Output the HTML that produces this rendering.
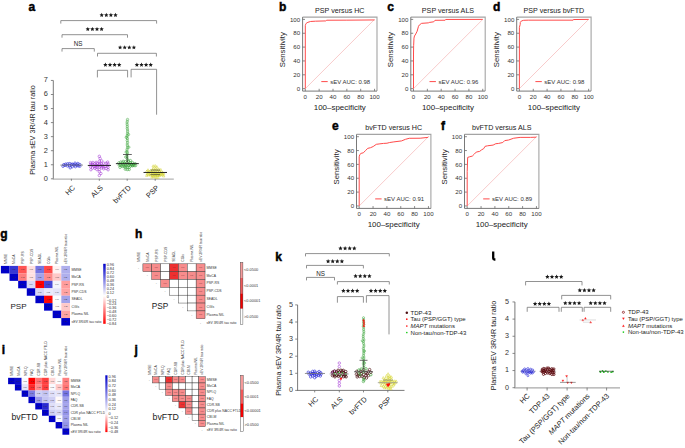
<!DOCTYPE html>
<html><head><meta charset="utf-8"><style>
html,body{margin:0;padding:0;background:#fff;}
svg{display:block;font-family:"Liberation Sans", sans-serif;}
</style></head><body>
<svg width="685" height="448" viewBox="0 0 685 448">
<rect width="685" height="448" fill="#fff"/>
<text x="28.60" y="10.90" font-size="12" text-anchor="start" fill="#000" font-weight="bold" stroke="#000" stroke-width="0.45">a</text>
<path d="M60.80,23.60 L60.80,20.60 L156.60,20.60 L156.60,23.60" fill="none" stroke="#6e6e6e" stroke-width="0.75"/>
<path d="M101.70,12.80 L102.34,14.23 L103.89,14.39 L102.73,15.43 L103.05,16.96 L101.70,16.18 L100.35,16.96 L100.67,15.43 L99.51,14.39 L101.06,14.23ZM106.30,12.80 L106.94,14.23 L108.49,14.39 L107.33,15.43 L107.65,16.96 L106.30,16.18 L104.95,16.96 L105.27,15.43 L104.11,14.39 L105.66,14.23ZM110.90,12.80 L111.54,14.23 L113.09,14.39 L111.93,15.43 L112.25,16.96 L110.90,16.18 L109.55,16.96 L109.87,15.43 L108.71,14.39 L110.26,14.23ZM115.50,12.80 L116.14,14.23 L117.69,14.39 L116.53,15.43 L116.85,16.96 L115.50,16.18 L114.15,16.96 L114.47,15.43 L113.31,14.39 L114.86,14.23Z" fill="#1a1a1a"/>
<path d="M62.00,37.70 L62.00,34.70 L127.50,34.70 L127.50,37.70" fill="none" stroke="#6e6e6e" stroke-width="0.75"/>
<path d="M87.80,26.90 L88.44,28.33 L89.99,28.49 L88.83,29.53 L89.15,31.06 L87.80,30.28 L86.45,31.06 L86.77,29.53 L85.61,28.49 L87.16,28.33ZM92.40,26.90 L93.04,28.33 L94.59,28.49 L93.43,29.53 L93.75,31.06 L92.40,30.28 L91.05,31.06 L91.37,29.53 L90.21,28.49 L91.76,28.33ZM97.00,26.90 L97.64,28.33 L99.19,28.49 L98.03,29.53 L98.35,31.06 L97.00,30.28 L95.65,31.06 L95.97,29.53 L94.81,28.49 L96.36,28.33ZM101.60,26.90 L102.24,28.33 L103.79,28.49 L102.63,29.53 L102.95,31.06 L101.60,30.28 L100.25,31.06 L100.57,29.53 L99.41,28.49 L100.96,28.33Z" fill="#1a1a1a"/>
<path d="M62.00,51.60 L62.00,48.60 L94.30,48.60 L94.30,51.60" fill="none" stroke="#6e6e6e" stroke-width="0.75"/>
<text x="78.20" y="46.00" font-size="6.3" text-anchor="middle" fill="#262626" font-weight="normal">NS</text>
<path d="M97.50,56.50 L97.50,53.30 L156.40,53.30 L156.40,56.50" fill="none" stroke="#6e6e6e" stroke-width="0.75"/>
<path d="M120.10,45.20 L120.74,46.63 L122.29,46.79 L121.13,47.83 L121.45,49.36 L120.10,48.58 L118.75,49.36 L119.07,47.83 L117.91,46.79 L119.46,46.63ZM124.70,45.20 L125.34,46.63 L126.89,46.79 L125.73,47.83 L126.05,49.36 L124.70,48.58 L123.35,49.36 L123.67,47.83 L122.51,46.79 L124.06,46.63ZM129.30,45.20 L129.94,46.63 L131.49,46.79 L130.33,47.83 L130.65,49.36 L129.30,48.58 L127.95,49.36 L128.27,47.83 L127.11,46.79 L128.66,46.63ZM133.90,45.20 L134.54,46.63 L136.09,46.79 L134.93,47.83 L135.25,49.36 L133.90,48.58 L132.55,49.36 L132.87,47.83 L131.71,46.79 L133.26,46.63Z" fill="#1a1a1a"/>
<path d="M97.40,77.40 L97.40,70.30 L127.60,70.30 L127.60,77.40" fill="none" stroke="#6e6e6e" stroke-width="0.75"/>
<path d="M105.40,62.50 L106.04,63.93 L107.59,64.09 L106.43,65.13 L106.75,66.66 L105.40,65.88 L104.05,66.66 L104.37,65.13 L103.21,64.09 L104.76,63.93ZM110.00,62.50 L110.64,63.93 L112.19,64.09 L111.03,65.13 L111.35,66.66 L110.00,65.88 L108.65,66.66 L108.97,65.13 L107.81,64.09 L109.36,63.93ZM114.60,62.50 L115.24,63.93 L116.79,64.09 L115.63,65.13 L115.95,66.66 L114.60,65.88 L113.25,66.66 L113.57,65.13 L112.41,64.09 L113.96,63.93ZM119.20,62.50 L119.84,63.93 L121.39,64.09 L120.23,65.13 L120.55,66.66 L119.20,65.88 L117.85,66.66 L118.17,65.13 L117.01,64.09 L118.56,63.93Z" fill="#1a1a1a"/>
<path d="M131.10,77.40 L131.10,69.30 L156.60,69.30 L156.60,114.70" fill="none" stroke="#6e6e6e" stroke-width="0.75"/>
<path d="M136.90,62.50 L137.54,63.93 L139.09,64.09 L137.93,65.13 L138.25,66.66 L136.90,65.88 L135.55,66.66 L135.87,65.13 L134.71,64.09 L136.26,63.93ZM141.50,62.50 L142.14,63.93 L143.69,64.09 L142.53,65.13 L142.85,66.66 L141.50,65.88 L140.15,66.66 L140.47,65.13 L139.31,64.09 L140.86,63.93ZM146.10,62.50 L146.74,63.93 L148.29,64.09 L147.13,65.13 L147.45,66.66 L146.10,65.88 L144.75,66.66 L145.07,65.13 L143.91,64.09 L145.46,63.93ZM150.70,62.50 L151.34,63.93 L152.89,64.09 L151.73,65.13 L152.05,66.66 L150.70,65.88 L149.35,66.66 L149.67,65.13 L148.51,64.09 L150.06,63.93Z" fill="#1a1a1a"/>
<line x1="53.30" y1="80.45" x2="53.30" y2="179.20" stroke="#6b6b6b" stroke-width="0.9"/>
<line x1="52.90" y1="179.10" x2="173.80" y2="179.10" stroke="#b4b4b4" stroke-width="1.2"/>
<line x1="50.90" y1="178.80" x2="53.30" y2="178.80" stroke="#6b6b6b" stroke-width="0.8"/>
<text x="47.80" y="180.70" font-size="7.4" text-anchor="end" fill="#333" font-weight="normal">0</text>
<line x1="50.90" y1="164.75" x2="53.30" y2="164.75" stroke="#6b6b6b" stroke-width="0.8"/>
<text x="47.80" y="166.65" font-size="7.4" text-anchor="end" fill="#333" font-weight="normal">1</text>
<line x1="50.90" y1="150.70" x2="53.30" y2="150.70" stroke="#6b6b6b" stroke-width="0.8"/>
<text x="47.80" y="152.60" font-size="7.4" text-anchor="end" fill="#333" font-weight="normal">2</text>
<line x1="50.90" y1="136.65" x2="53.30" y2="136.65" stroke="#6b6b6b" stroke-width="0.8"/>
<text x="47.80" y="138.55" font-size="7.4" text-anchor="end" fill="#333" font-weight="normal">3</text>
<line x1="50.90" y1="122.60" x2="53.30" y2="122.60" stroke="#6b6b6b" stroke-width="0.8"/>
<text x="47.80" y="124.50" font-size="7.4" text-anchor="end" fill="#333" font-weight="normal">4</text>
<line x1="50.90" y1="108.55" x2="53.30" y2="108.55" stroke="#6b6b6b" stroke-width="0.8"/>
<text x="47.80" y="110.45" font-size="7.4" text-anchor="end" fill="#333" font-weight="normal">5</text>
<line x1="50.90" y1="94.50" x2="53.30" y2="94.50" stroke="#6b6b6b" stroke-width="0.8"/>
<text x="47.80" y="96.40" font-size="7.4" text-anchor="end" fill="#333" font-weight="normal">6</text>
<line x1="50.90" y1="80.45" x2="53.30" y2="80.45" stroke="#6b6b6b" stroke-width="0.8"/>
<text x="47.80" y="82.35" font-size="7.4" text-anchor="end" fill="#333" font-weight="normal">7</text>
<text x="34.50" y="130.00" font-size="7.2" text-anchor="middle" fill="#222" font-weight="normal" transform="rotate(-90 34.50 130.00)">Plasma sEV 3R/4R tau ratio</text>
<line x1="71.40" y1="178.80" x2="71.40" y2="180.80" stroke="#6b6b6b" stroke-width="0.8"/>
<text x="75.60" y="188.20" font-size="7.3" text-anchor="end" fill="#222" font-weight="normal" transform="rotate(-45 75.60 188.20)">HC</text>
<line x1="99.30" y1="178.80" x2="99.30" y2="180.80" stroke="#6b6b6b" stroke-width="0.8"/>
<text x="103.50" y="188.20" font-size="7.3" text-anchor="end" fill="#222" font-weight="normal" transform="rotate(-45 103.50 188.20)">ALS</text>
<line x1="127.20" y1="178.80" x2="127.20" y2="180.80" stroke="#6b6b6b" stroke-width="0.8"/>
<text x="131.40" y="188.20" font-size="7.3" text-anchor="end" fill="#222" font-weight="normal" transform="rotate(-45 131.40 188.20)">bvFTD</text>
<line x1="155.20" y1="178.80" x2="155.20" y2="180.80" stroke="#6b6b6b" stroke-width="0.8"/>
<text x="159.40" y="188.20" font-size="7.3" text-anchor="end" fill="#222" font-weight="normal" transform="rotate(-45 159.40 188.20)">PSP</text>
<circle cx="71.40" cy="164.87" r="1.25" fill="none" stroke="#2a2ad8" stroke-width="0.62"/>
<circle cx="73.40" cy="164.74" r="1.25" fill="none" stroke="#2a2ad8" stroke-width="0.62"/>
<circle cx="69.80" cy="163.62" r="1.25" fill="none" stroke="#2a2ad8" stroke-width="0.62"/>
<circle cx="67.80" cy="163.82" r="1.25" fill="none" stroke="#2a2ad8" stroke-width="0.62"/>
<circle cx="75.00" cy="163.19" r="1.25" fill="none" stroke="#2a2ad8" stroke-width="0.62"/>
<circle cx="76.20" cy="164.98" r="1.25" fill="none" stroke="#2a2ad8" stroke-width="0.62"/>
<circle cx="65.80" cy="164.11" r="1.25" fill="none" stroke="#2a2ad8" stroke-width="0.62"/>
<circle cx="77.80" cy="163.52" r="1.25" fill="none" stroke="#2a2ad8" stroke-width="0.62"/>
<circle cx="72.20" cy="166.74" r="1.25" fill="none" stroke="#2a2ad8" stroke-width="0.62"/>
<circle cx="69.40" cy="165.69" r="1.25" fill="none" stroke="#2a2ad8" stroke-width="0.62"/>
<circle cx="67.40" cy="165.93" r="1.25" fill="none" stroke="#2a2ad8" stroke-width="0.62"/>
<circle cx="63.80" cy="164.67" r="1.25" fill="none" stroke="#2a2ad8" stroke-width="0.62"/>
<circle cx="78.20" cy="165.92" r="1.25" fill="none" stroke="#2a2ad8" stroke-width="0.62"/>
<circle cx="79.80" cy="164.56" r="1.25" fill="none" stroke="#2a2ad8" stroke-width="0.62"/>
<circle cx="74.60" cy="165.01" r="1.25" fill="none" stroke="#2a2ad8" stroke-width="0.62"/>
<circle cx="72.20" cy="164.15" r="1.25" fill="none" stroke="#2a2ad8" stroke-width="0.62"/>
<circle cx="65.00" cy="165.39" r="1.25" fill="none" stroke="#2a2ad8" stroke-width="0.62"/>
<circle cx="63.00" cy="166.21" r="1.25" fill="none" stroke="#2a2ad8" stroke-width="0.62"/>
<circle cx="79.80" cy="166.19" r="1.25" fill="none" stroke="#2a2ad8" stroke-width="0.62"/>
<circle cx="77.40" cy="164.86" r="1.25" fill="none" stroke="#2a2ad8" stroke-width="0.62"/>
<circle cx="70.20" cy="167.77" r="1.25" fill="none" stroke="#2a2ad8" stroke-width="0.62"/>
<circle cx="75.40" cy="166.67" r="1.25" fill="none" stroke="#2a2ad8" stroke-width="0.62"/>
<circle cx="99.30" cy="161.26" r="1.25" fill="none" stroke="#a438d4" stroke-width="0.55"/>
<circle cx="99.30" cy="166.97" r="1.25" fill="none" stroke="#a438d4" stroke-width="0.55"/>
<circle cx="99.30" cy="164.63" r="1.25" fill="none" stroke="#a438d4" stroke-width="0.55"/>
<circle cx="101.30" cy="163.71" r="1.25" fill="none" stroke="#a438d4" stroke-width="0.55"/>
<circle cx="101.70" cy="160.88" r="1.25" fill="none" stroke="#a438d4" stroke-width="0.55"/>
<circle cx="101.70" cy="167.85" r="1.25" fill="none" stroke="#a438d4" stroke-width="0.55"/>
<circle cx="96.90" cy="167.03" r="1.25" fill="none" stroke="#a438d4" stroke-width="0.55"/>
<circle cx="99.30" cy="169.55" r="1.25" fill="none" stroke="#a438d4" stroke-width="0.55"/>
<circle cx="94.90" cy="168.28" r="1.25" fill="none" stroke="#a438d4" stroke-width="0.55"/>
<circle cx="102.50" cy="165.59" r="1.25" fill="none" stroke="#a438d4" stroke-width="0.55"/>
<circle cx="104.90" cy="166.40" r="1.25" fill="none" stroke="#a438d4" stroke-width="0.55"/>
<circle cx="99.30" cy="175.43" r="1.25" fill="none" stroke="#a438d4" stroke-width="0.55"/>
<circle cx="94.10" cy="166.14" r="1.25" fill="none" stroke="#a438d4" stroke-width="0.55"/>
<circle cx="103.70" cy="168.83" r="1.25" fill="none" stroke="#a438d4" stroke-width="0.55"/>
<circle cx="99.30" cy="171.78" r="1.25" fill="none" stroke="#a438d4" stroke-width="0.55"/>
<circle cx="97.30" cy="163.44" r="1.25" fill="none" stroke="#a438d4" stroke-width="0.55"/>
<circle cx="91.70" cy="165.60" r="1.25" fill="none" stroke="#a438d4" stroke-width="0.55"/>
<circle cx="103.70" cy="163.15" r="1.25" fill="none" stroke="#a438d4" stroke-width="0.55"/>
<circle cx="107.30" cy="165.88" r="1.25" fill="none" stroke="#a438d4" stroke-width="0.55"/>
<circle cx="94.90" cy="163.71" r="1.25" fill="none" stroke="#a438d4" stroke-width="0.55"/>
<circle cx="92.90" cy="162.46" r="1.25" fill="none" stroke="#a438d4" stroke-width="0.55"/>
<circle cx="106.10" cy="163.22" r="1.25" fill="none" stroke="#a438d4" stroke-width="0.55"/>
<circle cx="90.50" cy="166.78" r="1.25" fill="none" stroke="#a438d4" stroke-width="0.55"/>
<circle cx="100.90" cy="166.24" r="1.25" fill="none" stroke="#a438d4" stroke-width="0.55"/>
<circle cx="108.10" cy="164.00" r="1.25" fill="none" stroke="#a438d4" stroke-width="0.55"/>
<circle cx="99.30" cy="156.32" r="1.25" fill="none" stroke="#a438d4" stroke-width="0.55"/>
<circle cx="103.30" cy="166.91" r="1.25" fill="none" stroke="#a438d4" stroke-width="0.55"/>
<circle cx="90.50" cy="162.59" r="1.25" fill="none" stroke="#a438d4" stroke-width="0.55"/>
<circle cx="99.70" cy="163.24" r="1.25" fill="none" stroke="#a438d4" stroke-width="0.55"/>
<circle cx="100.90" cy="173.46" r="1.25" fill="none" stroke="#a438d4" stroke-width="0.55"/>
<circle cx="92.50" cy="168.03" r="1.25" fill="none" stroke="#a438d4" stroke-width="0.55"/>
<circle cx="96.10" cy="165.30" r="1.25" fill="none" stroke="#a438d4" stroke-width="0.55"/>
<circle cx="106.10" cy="168.52" r="1.25" fill="none" stroke="#a438d4" stroke-width="0.55"/>
<circle cx="100.10" cy="158.43" r="1.25" fill="none" stroke="#a438d4" stroke-width="0.55"/>
<circle cx="97.70" cy="165.65" r="1.25" fill="none" stroke="#a438d4" stroke-width="0.55"/>
<circle cx="95.30" cy="166.85" r="1.25" fill="none" stroke="#a438d4" stroke-width="0.55"/>
<circle cx="107.70" cy="162.12" r="1.25" fill="none" stroke="#a438d4" stroke-width="0.55"/>
<circle cx="92.50" cy="164.05" r="1.25" fill="none" stroke="#a438d4" stroke-width="0.55"/>
<circle cx="96.90" cy="169.59" r="1.25" fill="none" stroke="#a438d4" stroke-width="0.55"/>
<circle cx="90.90" cy="169.72" r="1.25" fill="none" stroke="#a438d4" stroke-width="0.55"/>
<circle cx="108.10" cy="169.76" r="1.25" fill="none" stroke="#a438d4" stroke-width="0.55"/>
<circle cx="90.90" cy="164.08" r="1.25" fill="none" stroke="#a438d4" stroke-width="0.55"/>
<circle cx="96.10" cy="162.38" r="1.25" fill="none" stroke="#a438d4" stroke-width="0.55"/>
<circle cx="108.10" cy="167.28" r="1.25" fill="none" stroke="#a438d4" stroke-width="0.55"/>
<circle cx="127.20" cy="162.60" r="1.2" fill="none" stroke="#34a034" stroke-width="0.55"/>
<circle cx="127.20" cy="164.88" r="1.2" fill="none" stroke="#34a034" stroke-width="0.55"/>
<circle cx="127.20" cy="167.21" r="1.2" fill="none" stroke="#34a034" stroke-width="0.55"/>
<circle cx="128.40" cy="161.10" r="1.2" fill="none" stroke="#34a034" stroke-width="0.55"/>
<circle cx="129.20" cy="164.00" r="1.2" fill="none" stroke="#34a034" stroke-width="0.55"/>
<circle cx="125.20" cy="164.86" r="1.2" fill="none" stroke="#34a034" stroke-width="0.55"/>
<circle cx="129.20" cy="167.61" r="1.2" fill="none" stroke="#34a034" stroke-width="0.55"/>
<circle cx="130.40" cy="166.10" r="1.2" fill="none" stroke="#34a034" stroke-width="0.55"/>
<circle cx="127.20" cy="169.60" r="1.2" fill="none" stroke="#34a034" stroke-width="0.55"/>
<circle cx="125.20" cy="161.63" r="1.2" fill="none" stroke="#34a034" stroke-width="0.55"/>
<circle cx="130.40" cy="160.54" r="1.2" fill="none" stroke="#34a034" stroke-width="0.55"/>
<circle cx="123.20" cy="165.12" r="1.2" fill="none" stroke="#34a034" stroke-width="0.55"/>
<circle cx="132.40" cy="165.94" r="1.2" fill="none" stroke="#34a034" stroke-width="0.55"/>
<circle cx="129.20" cy="169.54" r="1.2" fill="none" stroke="#34a034" stroke-width="0.55"/>
<circle cx="131.20" cy="164.15" r="1.2" fill="none" stroke="#34a034" stroke-width="0.55"/>
<circle cx="123.20" cy="161.30" r="1.2" fill="none" stroke="#34a034" stroke-width="0.55"/>
<circle cx="121.20" cy="165.69" r="1.2" fill="none" stroke="#34a034" stroke-width="0.55"/>
<circle cx="132.40" cy="162.48" r="1.2" fill="none" stroke="#34a034" stroke-width="0.55"/>
<circle cx="134.40" cy="165.54" r="1.2" fill="none" stroke="#34a034" stroke-width="0.55"/>
<circle cx="122.40" cy="163.03" r="1.2" fill="none" stroke="#34a034" stroke-width="0.55"/>
<circle cx="119.20" cy="165.17" r="1.2" fill="none" stroke="#34a034" stroke-width="0.55"/>
<circle cx="120.80" cy="161.97" r="1.2" fill="none" stroke="#34a034" stroke-width="0.55"/>
<circle cx="128.80" cy="165.35" r="1.2" fill="none" stroke="#34a034" stroke-width="0.55"/>
<circle cx="125.20" cy="167.24" r="1.2" fill="none" stroke="#34a034" stroke-width="0.55"/>
<circle cx="125.20" cy="169.17" r="1.2" fill="none" stroke="#34a034" stroke-width="0.55"/>
<circle cx="135.60" cy="165.54" r="1.2" fill="none" stroke="#34a034" stroke-width="0.55"/>
<circle cx="126.00" cy="165.91" r="1.2" fill="none" stroke="#34a034" stroke-width="0.55"/>
<circle cx="124.00" cy="166.29" r="1.2" fill="none" stroke="#34a034" stroke-width="0.55"/>
<circle cx="131.60" cy="165.21" r="1.2" fill="none" stroke="#34a034" stroke-width="0.55"/>
<circle cx="133.20" cy="164.19" r="1.2" fill="none" stroke="#34a034" stroke-width="0.55"/>
<circle cx="122.40" cy="166.47" r="1.2" fill="none" stroke="#34a034" stroke-width="0.55"/>
<circle cx="120.40" cy="164.59" r="1.2" fill="none" stroke="#34a034" stroke-width="0.55"/>
<circle cx="133.20" cy="165.44" r="1.2" fill="none" stroke="#34a034" stroke-width="0.55"/>
<circle cx="120.00" cy="167.36" r="1.2" fill="none" stroke="#34a034" stroke-width="0.55"/>
<circle cx="135.20" cy="163.62" r="1.2" fill="none" stroke="#34a034" stroke-width="0.55"/>
<circle cx="118.80" cy="162.93" r="1.2" fill="none" stroke="#34a034" stroke-width="0.55"/>
<circle cx="124.40" cy="163.16" r="1.2" fill="none" stroke="#34a034" stroke-width="0.55"/>
<circle cx="130.40" cy="162.71" r="1.2" fill="none" stroke="#34a034" stroke-width="0.55"/>
<circle cx="127.59" cy="159.83" r="1.15" fill="none" stroke="#34a034" stroke-width="0.5"/>
<circle cx="127.13" cy="158.08" r="1.15" fill="none" stroke="#34a034" stroke-width="0.5"/>
<circle cx="126.96" cy="156.32" r="1.15" fill="none" stroke="#34a034" stroke-width="0.5"/>
<circle cx="127.16" cy="154.56" r="1.15" fill="none" stroke="#34a034" stroke-width="0.5"/>
<circle cx="127.42" cy="152.81" r="1.15" fill="none" stroke="#34a034" stroke-width="0.5"/>
<circle cx="127.09" cy="151.05" r="1.15" fill="none" stroke="#34a034" stroke-width="0.5"/>
<circle cx="127.07" cy="149.30" r="1.15" fill="none" stroke="#34a034" stroke-width="0.5"/>
<circle cx="127.58" cy="147.54" r="1.15" fill="none" stroke="#34a034" stroke-width="0.5"/>
<circle cx="127.41" cy="145.78" r="1.15" fill="none" stroke="#34a034" stroke-width="0.5"/>
<circle cx="127.26" cy="144.03" r="1.15" fill="none" stroke="#34a034" stroke-width="0.5"/>
<circle cx="127.57" cy="142.27" r="1.15" fill="none" stroke="#34a034" stroke-width="0.5"/>
<circle cx="127.18" cy="140.51" r="1.15" fill="none" stroke="#34a034" stroke-width="0.5"/>
<circle cx="127.42" cy="138.76" r="1.15" fill="none" stroke="#34a034" stroke-width="0.5"/>
<circle cx="127.09" cy="137.00" r="1.15" fill="none" stroke="#34a034" stroke-width="0.5"/>
<circle cx="127.25" cy="135.25" r="1.15" fill="none" stroke="#34a034" stroke-width="0.5"/>
<circle cx="127.51" cy="133.49" r="1.15" fill="none" stroke="#34a034" stroke-width="0.5"/>
<circle cx="127.59" cy="131.73" r="1.15" fill="none" stroke="#34a034" stroke-width="0.5"/>
<circle cx="127.57" cy="129.98" r="1.15" fill="none" stroke="#34a034" stroke-width="0.5"/>
<circle cx="127.22" cy="128.22" r="1.15" fill="none" stroke="#34a034" stroke-width="0.5"/>
<circle cx="127.36" cy="126.46" r="1.15" fill="none" stroke="#34a034" stroke-width="0.5"/>
<circle cx="127.17" cy="124.71" r="1.15" fill="none" stroke="#34a034" stroke-width="0.5"/>
<circle cx="127.05" cy="122.95" r="1.15" fill="none" stroke="#34a034" stroke-width="0.5"/>
<circle cx="127.30" cy="121.20" r="1.15" fill="none" stroke="#34a034" stroke-width="0.5"/>
<circle cx="127.54" cy="119.44" r="1.15" fill="none" stroke="#34a034" stroke-width="0.5"/>
<circle cx="126.14" cy="152.11" r="1.15" fill="none" stroke="#34a034" stroke-width="0.5"/>
<circle cx="128.85" cy="147.19" r="1.15" fill="none" stroke="#34a034" stroke-width="0.5"/>
<circle cx="126.22" cy="137.35" r="1.15" fill="none" stroke="#34a034" stroke-width="0.5"/>
<circle cx="128.54" cy="134.54" r="1.15" fill="none" stroke="#34a034" stroke-width="0.5"/>
<circle cx="125.67" cy="157.02" r="1.15" fill="none" stroke="#34a034" stroke-width="0.5"/>
<path d="M153.95,176.82 L156.45,176.82 L155.20,174.57Z" fill="none" stroke="#d0d028" stroke-width="0.5"/>
<path d="M153.95,171.46 L156.45,171.46 L155.20,169.21Z" fill="none" stroke="#d0d028" stroke-width="0.5"/>
<path d="M155.95,176.44 L158.45,176.44 L157.20,174.19Z" fill="none" stroke="#d0d028" stroke-width="0.5"/>
<path d="M153.95,173.81 L156.45,173.81 L155.20,171.56Z" fill="none" stroke="#d0d028" stroke-width="0.5"/>
<path d="M155.95,173.97 L158.45,173.97 L157.20,171.72Z" fill="none" stroke="#d0d028" stroke-width="0.5"/>
<path d="M155.55,170.52 L158.05,170.52 L156.80,168.27Z" fill="none" stroke="#d0d028" stroke-width="0.5"/>
<path d="M153.95,169.54 L156.45,169.54 L155.20,167.29Z" fill="none" stroke="#d0d028" stroke-width="0.5"/>
<path d="M151.95,169.49 L154.45,169.49 L153.20,167.24Z" fill="none" stroke="#d0d028" stroke-width="0.5"/>
<path d="M152.35,172.72 L154.85,172.72 L153.60,170.47Z" fill="none" stroke="#d0d028" stroke-width="0.5"/>
<path d="M152.75,175.14 L155.25,175.14 L154.00,172.89Z" fill="none" stroke="#d0d028" stroke-width="0.5"/>
<path d="M150.75,175.51 L153.25,175.51 L152.00,173.26Z" fill="none" stroke="#d0d028" stroke-width="0.5"/>
<path d="M151.15,170.99 L153.65,170.99 L152.40,168.74Z" fill="none" stroke="#d0d028" stroke-width="0.5"/>
<path d="M157.95,176.49 L160.45,176.49 L159.20,174.24Z" fill="none" stroke="#d0d028" stroke-width="0.5"/>
<path d="M156.35,172.17 L158.85,172.17 L157.60,169.92Z" fill="none" stroke="#d0d028" stroke-width="0.5"/>
<path d="M149.15,176.12 L151.65,176.12 L150.40,173.87Z" fill="none" stroke="#d0d028" stroke-width="0.5"/>
<path d="M150.35,173.07 L152.85,173.07 L151.60,170.82Z" fill="none" stroke="#d0d028" stroke-width="0.5"/>
<path d="M158.35,172.03 L160.85,172.03 L159.60,169.78Z" fill="none" stroke="#d0d028" stroke-width="0.5"/>
<path d="M152.35,177.40 L154.85,177.40 L153.60,175.15Z" fill="none" stroke="#d0d028" stroke-width="0.5"/>
<path d="M153.95,166.78 L156.45,166.78 L155.20,164.53Z" fill="none" stroke="#d0d028" stroke-width="0.5"/>
<path d="M154.75,178.42 L157.25,178.42 L156.00,176.17Z" fill="none" stroke="#d0d028" stroke-width="0.5"/>
<path d="M157.55,174.71 L160.05,174.71 L158.80,172.46Z" fill="none" stroke="#d0d028" stroke-width="0.5"/>
<path d="M159.55,175.80 L162.05,175.80 L160.80,173.55Z" fill="none" stroke="#d0d028" stroke-width="0.5"/>
<path d="M149.55,171.57 L152.05,171.57 L150.80,169.32Z" fill="none" stroke="#d0d028" stroke-width="0.5"/>
<path d="M159.15,173.63 L161.65,173.63 L160.40,171.38Z" fill="none" stroke="#d0d028" stroke-width="0.5"/>
<path d="M147.95,172.37 L150.45,172.37 L149.20,170.12Z" fill="none" stroke="#d0d028" stroke-width="0.5"/>
<path d="M147.55,175.54 L150.05,175.54 L148.80,173.29Z" fill="none" stroke="#d0d028" stroke-width="0.5"/>
<path d="M155.55,167.86 L158.05,167.86 L156.80,165.61Z" fill="none" stroke="#d0d028" stroke-width="0.5"/>
<path d="M161.55,175.63 L164.05,175.63 L162.80,173.38Z" fill="none" stroke="#d0d028" stroke-width="0.5"/>
<path d="M161.15,173.30 L163.65,173.30 L162.40,171.05Z" fill="none" stroke="#d0d028" stroke-width="0.5"/>
<path d="M145.95,174.81 L148.45,174.81 L147.20,172.56Z" fill="none" stroke="#d0d028" stroke-width="0.5"/>
<path d="M156.75,178.31 L159.25,178.31 L158.00,176.06Z" fill="none" stroke="#d0d028" stroke-width="0.5"/>
<path d="M145.55,176.37 L148.05,176.37 L146.80,174.12Z" fill="none" stroke="#d0d028" stroke-width="0.5"/>
<path d="M159.55,170.73 L162.05,170.73 L160.80,168.48Z" fill="none" stroke="#d0d028" stroke-width="0.5"/>
<path d="M154.75,175.12 L157.25,175.12 L156.00,172.87Z" fill="none" stroke="#d0d028" stroke-width="0.5"/>
<path d="M156.35,175.40 L158.85,175.40 L157.60,173.15Z" fill="none" stroke="#d0d028" stroke-width="0.5"/>
<path d="M157.55,170.17 L160.05,170.17 L158.80,167.92Z" fill="none" stroke="#d0d028" stroke-width="0.5"/>
<path d="M146.75,170.99 L149.25,170.99 L148.00,168.74Z" fill="none" stroke="#d0d028" stroke-width="0.5"/>
<path d="M149.15,174.41 L151.65,174.41 L150.40,172.16Z" fill="none" stroke="#d0d028" stroke-width="0.5"/>
<path d="M150.75,178.13 L153.25,178.13 L152.00,175.88Z" fill="none" stroke="#d0d028" stroke-width="0.5"/>
<path d="M162.35,176.88 L164.85,176.88 L163.60,174.63Z" fill="none" stroke="#d0d028" stroke-width="0.5"/>
<path d="M147.15,173.80 L149.65,173.80 L148.40,171.55Z" fill="none" stroke="#d0d028" stroke-width="0.5"/>
<path d="M151.55,173.79 L154.05,173.79 L152.80,171.54Z" fill="none" stroke="#d0d028" stroke-width="0.5"/>
<path d="M162.35,174.38 L164.85,174.38 L163.60,172.13Z" fill="none" stroke="#d0d028" stroke-width="0.5"/>
<path d="M151.55,176.49 L154.05,176.49 L152.80,174.24Z" fill="none" stroke="#d0d028" stroke-width="0.5"/>
<path d="M160.35,174.55 L162.85,174.55 L161.60,172.30Z" fill="none" stroke="#d0d028" stroke-width="0.5"/>
<path d="M158.35,175.58 L160.85,175.58 L159.60,173.33Z" fill="none" stroke="#d0d028" stroke-width="0.5"/>
<path d="M151.95,167.02 L154.45,167.02 L153.20,164.77Z" fill="none" stroke="#d0d028" stroke-width="0.5"/>
<path d="M145.55,172.21 L148.05,172.21 L146.80,169.96Z" fill="none" stroke="#d0d028" stroke-width="0.5"/>
<path d="M153.95,175.61 L156.45,175.61 L155.20,173.36Z" fill="none" stroke="#d0d028" stroke-width="0.5"/>
<line x1="60.30" y1="165.10" x2="83.00" y2="165.10" stroke="#777" stroke-width="0.8"/>
<line x1="87.80" y1="165.45" x2="111.00" y2="165.45" stroke="#111" stroke-width="0.9"/>
<line x1="115.90" y1="163.63" x2="138.80" y2="163.63" stroke="#111" stroke-width="0.9"/>
<line x1="123.00" y1="154.49" x2="131.80" y2="154.49" stroke="#222" stroke-width="0.7"/>
<line x1="127.20" y1="154.49" x2="127.20" y2="163.63" stroke="#222" stroke-width="0.7"/>
<line x1="143.50" y1="172.48" x2="167.00" y2="172.48" stroke="#111" stroke-width="0.9"/>
<line x1="150.50" y1="170.09" x2="160.00" y2="170.09" stroke="#333" stroke-width="0.6"/>
<line x1="150.50" y1="174.59" x2="160.00" y2="174.59" stroke="#333" stroke-width="0.6"/>
<text x="279.00" y="10.80" font-size="12" text-anchor="start" fill="#000" font-weight="bold" stroke="#000" stroke-width="0.45">b</text>
<text x="339.80" y="13.10" font-size="7.15" text-anchor="middle" fill="#222" font-weight="normal">PSP versus HC</text>
<path d="M302.60,17.10 L377.00,17.10 L377.00,91.10" fill="none" stroke="#a4a4a4" stroke-width="1.1"/>
<path d="M302.60,17.10 L302.60,91.10 L377.00,91.10" fill="none" stroke="#6a6a6a" stroke-width="0.9"/>
<line x1="302.60" y1="88.65" x2="305.00" y2="88.65" stroke="#6a6a6a" stroke-width="0.8"/>
<line x1="305.30" y1="91.10" x2="305.30" y2="88.80" stroke="#6a6a6a" stroke-width="0.8"/>
<text x="300.20" y="90.80" font-size="6.15" text-anchor="end" fill="#333" font-weight="normal">0</text>
<text x="305.30" y="98.60" font-size="6.15" text-anchor="middle" fill="#333" font-weight="normal">0</text>
<line x1="302.60" y1="74.80" x2="305.00" y2="74.80" stroke="#6a6a6a" stroke-width="0.8"/>
<line x1="319.15" y1="91.10" x2="319.15" y2="88.80" stroke="#6a6a6a" stroke-width="0.8"/>
<text x="300.20" y="76.95" font-size="6.15" text-anchor="end" fill="#333" font-weight="normal">20</text>
<text x="319.15" y="98.60" font-size="6.15" text-anchor="middle" fill="#333" font-weight="normal">20</text>
<line x1="302.60" y1="60.95" x2="305.00" y2="60.95" stroke="#6a6a6a" stroke-width="0.8"/>
<line x1="333.00" y1="91.10" x2="333.00" y2="88.80" stroke="#6a6a6a" stroke-width="0.8"/>
<text x="300.20" y="63.10" font-size="6.15" text-anchor="end" fill="#333" font-weight="normal">40</text>
<text x="333.00" y="98.60" font-size="6.15" text-anchor="middle" fill="#333" font-weight="normal">40</text>
<line x1="302.60" y1="47.10" x2="305.00" y2="47.10" stroke="#6a6a6a" stroke-width="0.8"/>
<line x1="346.85" y1="91.10" x2="346.85" y2="88.80" stroke="#6a6a6a" stroke-width="0.8"/>
<text x="300.20" y="49.25" font-size="6.15" text-anchor="end" fill="#333" font-weight="normal">60</text>
<text x="346.85" y="98.60" font-size="6.15" text-anchor="middle" fill="#333" font-weight="normal">60</text>
<line x1="302.60" y1="33.25" x2="305.00" y2="33.25" stroke="#6a6a6a" stroke-width="0.8"/>
<line x1="360.70" y1="91.10" x2="360.70" y2="88.80" stroke="#6a6a6a" stroke-width="0.8"/>
<text x="300.20" y="35.40" font-size="6.15" text-anchor="end" fill="#333" font-weight="normal">80</text>
<text x="360.70" y="98.60" font-size="6.15" text-anchor="middle" fill="#333" font-weight="normal">80</text>
<line x1="302.60" y1="19.40" x2="305.00" y2="19.40" stroke="#6a6a6a" stroke-width="0.8"/>
<line x1="374.55" y1="91.10" x2="374.55" y2="88.80" stroke="#6a6a6a" stroke-width="0.8"/>
<text x="300.20" y="21.55" font-size="6.15" text-anchor="end" fill="#333" font-weight="normal">100</text>
<text x="374.55" y="98.60" font-size="6.15" text-anchor="middle" fill="#333" font-weight="normal">100</text>
<text x="284.80" y="49.70" font-size="7.8" text-anchor="middle" fill="#222" font-weight="normal" transform="rotate(-90 284.80 49.70)">Sensitivity</text>
<text x="339.80" y="110.00" font-size="7.95" text-anchor="middle" fill="#222" font-weight="normal">100–specificity</text>
<line x1="305.30" y1="88.65" x2="374.55" y2="19.40" stroke="#f2a0a0" stroke-width="0.55"/>
<path d="M305.30,88.65 L305.30,25.63 L305.72,24.11 L306.20,23.35 L307.03,22.72 L307.93,22.31 L310.63,21.48 L315.48,21.20 L325.80,20.92 L326.77,20.23 L346.85,20.16 L374.55,19.95" fill="none" stroke="#ff4a4a" stroke-width="1.0" stroke-linejoin="round"/>
<line x1="321.30" y1="81.60" x2="327.70" y2="81.60" stroke="#ff4a4a" stroke-width="1.0"/>
<text x="330.20" y="83.70" font-size="6.0" text-anchor="start" fill="#333" font-weight="normal">sEV AUC: 0.98</text>
<text x="387.20" y="10.80" font-size="12" text-anchor="start" fill="#000" font-weight="bold" stroke="#000" stroke-width="0.45">c</text>
<text x="448.00" y="13.10" font-size="7.15" text-anchor="middle" fill="#222" font-weight="normal">PSP versus ALS</text>
<path d="M410.80,17.10 L485.20,17.10 L485.20,91.10" fill="none" stroke="#a4a4a4" stroke-width="1.1"/>
<path d="M410.80,17.10 L410.80,91.10 L485.20,91.10" fill="none" stroke="#6a6a6a" stroke-width="0.9"/>
<line x1="410.80" y1="88.65" x2="413.20" y2="88.65" stroke="#6a6a6a" stroke-width="0.8"/>
<line x1="413.50" y1="91.10" x2="413.50" y2="88.80" stroke="#6a6a6a" stroke-width="0.8"/>
<text x="408.40" y="90.80" font-size="6.15" text-anchor="end" fill="#333" font-weight="normal">0</text>
<text x="413.50" y="98.60" font-size="6.15" text-anchor="middle" fill="#333" font-weight="normal">0</text>
<line x1="410.80" y1="74.80" x2="413.20" y2="74.80" stroke="#6a6a6a" stroke-width="0.8"/>
<line x1="427.35" y1="91.10" x2="427.35" y2="88.80" stroke="#6a6a6a" stroke-width="0.8"/>
<text x="408.40" y="76.95" font-size="6.15" text-anchor="end" fill="#333" font-weight="normal">20</text>
<text x="427.35" y="98.60" font-size="6.15" text-anchor="middle" fill="#333" font-weight="normal">20</text>
<line x1="410.80" y1="60.95" x2="413.20" y2="60.95" stroke="#6a6a6a" stroke-width="0.8"/>
<line x1="441.20" y1="91.10" x2="441.20" y2="88.80" stroke="#6a6a6a" stroke-width="0.8"/>
<text x="408.40" y="63.10" font-size="6.15" text-anchor="end" fill="#333" font-weight="normal">40</text>
<text x="441.20" y="98.60" font-size="6.15" text-anchor="middle" fill="#333" font-weight="normal">40</text>
<line x1="410.80" y1="47.10" x2="413.20" y2="47.10" stroke="#6a6a6a" stroke-width="0.8"/>
<line x1="455.05" y1="91.10" x2="455.05" y2="88.80" stroke="#6a6a6a" stroke-width="0.8"/>
<text x="408.40" y="49.25" font-size="6.15" text-anchor="end" fill="#333" font-weight="normal">60</text>
<text x="455.05" y="98.60" font-size="6.15" text-anchor="middle" fill="#333" font-weight="normal">60</text>
<line x1="410.80" y1="33.25" x2="413.20" y2="33.25" stroke="#6a6a6a" stroke-width="0.8"/>
<line x1="468.90" y1="91.10" x2="468.90" y2="88.80" stroke="#6a6a6a" stroke-width="0.8"/>
<text x="408.40" y="35.40" font-size="6.15" text-anchor="end" fill="#333" font-weight="normal">80</text>
<text x="468.90" y="98.60" font-size="6.15" text-anchor="middle" fill="#333" font-weight="normal">80</text>
<line x1="410.80" y1="19.40" x2="413.20" y2="19.40" stroke="#6a6a6a" stroke-width="0.8"/>
<line x1="482.75" y1="91.10" x2="482.75" y2="88.80" stroke="#6a6a6a" stroke-width="0.8"/>
<text x="408.40" y="21.55" font-size="6.15" text-anchor="end" fill="#333" font-weight="normal">100</text>
<text x="482.75" y="98.60" font-size="6.15" text-anchor="middle" fill="#333" font-weight="normal">100</text>
<text x="393.00" y="49.70" font-size="7.8" text-anchor="middle" fill="#222" font-weight="normal" transform="rotate(-90 393.00 49.70)">Sensitivity</text>
<text x="448.00" y="110.00" font-size="7.95" text-anchor="middle" fill="#222" font-weight="normal">100–specificity</text>
<line x1="413.50" y1="88.65" x2="482.75" y2="19.40" stroke="#f2a0a0" stroke-width="0.55"/>
<path d="M413.50,88.65 L413.50,54.03 L413.64,45.72 L413.98,38.10 L414.47,36.02 L415.79,33.94 L417.17,31.17 L418.49,26.33 L419.39,24.94 L421.60,23.35 L428.32,22.86 L429.22,22.45 L433.72,21.82 L434.97,20.30 L445.15,20.23 L445.63,19.47 L482.75,19.40" fill="none" stroke="#ff4a4a" stroke-width="1.0" stroke-linejoin="round"/>
<line x1="429.50" y1="81.60" x2="435.90" y2="81.60" stroke="#ff4a4a" stroke-width="1.0"/>
<text x="438.40" y="83.70" font-size="6.0" text-anchor="start" fill="#333" font-weight="normal">sEV AUC: 0.96</text>
<text x="493.10" y="10.80" font-size="12" text-anchor="start" fill="#000" font-weight="bold" stroke="#000" stroke-width="0.45">d</text>
<text x="553.90" y="13.10" font-size="7.15" text-anchor="middle" fill="#222" font-weight="normal">PSP versus bvFTD</text>
<path d="M516.70,17.10 L591.10,17.10 L591.10,91.10" fill="none" stroke="#a4a4a4" stroke-width="1.1"/>
<path d="M516.70,17.10 L516.70,91.10 L591.10,91.10" fill="none" stroke="#6a6a6a" stroke-width="0.9"/>
<line x1="516.70" y1="88.65" x2="519.10" y2="88.65" stroke="#6a6a6a" stroke-width="0.8"/>
<line x1="519.40" y1="91.10" x2="519.40" y2="88.80" stroke="#6a6a6a" stroke-width="0.8"/>
<text x="514.30" y="90.80" font-size="6.15" text-anchor="end" fill="#333" font-weight="normal">0</text>
<text x="519.40" y="98.60" font-size="6.15" text-anchor="middle" fill="#333" font-weight="normal">0</text>
<line x1="516.70" y1="74.80" x2="519.10" y2="74.80" stroke="#6a6a6a" stroke-width="0.8"/>
<line x1="533.25" y1="91.10" x2="533.25" y2="88.80" stroke="#6a6a6a" stroke-width="0.8"/>
<text x="514.30" y="76.95" font-size="6.15" text-anchor="end" fill="#333" font-weight="normal">20</text>
<text x="533.25" y="98.60" font-size="6.15" text-anchor="middle" fill="#333" font-weight="normal">20</text>
<line x1="516.70" y1="60.95" x2="519.10" y2="60.95" stroke="#6a6a6a" stroke-width="0.8"/>
<line x1="547.10" y1="91.10" x2="547.10" y2="88.80" stroke="#6a6a6a" stroke-width="0.8"/>
<text x="514.30" y="63.10" font-size="6.15" text-anchor="end" fill="#333" font-weight="normal">40</text>
<text x="547.10" y="98.60" font-size="6.15" text-anchor="middle" fill="#333" font-weight="normal">40</text>
<line x1="516.70" y1="47.10" x2="519.10" y2="47.10" stroke="#6a6a6a" stroke-width="0.8"/>
<line x1="560.95" y1="91.10" x2="560.95" y2="88.80" stroke="#6a6a6a" stroke-width="0.8"/>
<text x="514.30" y="49.25" font-size="6.15" text-anchor="end" fill="#333" font-weight="normal">60</text>
<text x="560.95" y="98.60" font-size="6.15" text-anchor="middle" fill="#333" font-weight="normal">60</text>
<line x1="516.70" y1="33.25" x2="519.10" y2="33.25" stroke="#6a6a6a" stroke-width="0.8"/>
<line x1="574.80" y1="91.10" x2="574.80" y2="88.80" stroke="#6a6a6a" stroke-width="0.8"/>
<text x="514.30" y="35.40" font-size="6.15" text-anchor="end" fill="#333" font-weight="normal">80</text>
<text x="574.80" y="98.60" font-size="6.15" text-anchor="middle" fill="#333" font-weight="normal">80</text>
<line x1="516.70" y1="19.40" x2="519.10" y2="19.40" stroke="#6a6a6a" stroke-width="0.8"/>
<line x1="588.65" y1="91.10" x2="588.65" y2="88.80" stroke="#6a6a6a" stroke-width="0.8"/>
<text x="514.30" y="21.55" font-size="6.15" text-anchor="end" fill="#333" font-weight="normal">100</text>
<text x="588.65" y="98.60" font-size="6.15" text-anchor="middle" fill="#333" font-weight="normal">100</text>
<text x="498.90" y="49.70" font-size="7.8" text-anchor="middle" fill="#222" font-weight="normal" transform="rotate(-90 498.90 49.70)">Sensitivity</text>
<text x="553.90" y="110.00" font-size="7.95" text-anchor="middle" fill="#222" font-weight="normal">100–specificity</text>
<line x1="519.40" y1="88.65" x2="588.65" y2="19.40" stroke="#f2a0a0" stroke-width="0.55"/>
<path d="M519.40,88.65 L519.40,27.36 L520.16,24.59 L520.30,22.38 L521.48,20.92 L523.69,20.30 L528.26,20.16 L573.14,20.16 L573.42,19.54 L588.65,19.40" fill="none" stroke="#ff4a4a" stroke-width="1.0" stroke-linejoin="round"/>
<line x1="535.40" y1="81.60" x2="541.80" y2="81.60" stroke="#ff4a4a" stroke-width="1.0"/>
<text x="544.30" y="83.70" font-size="6.0" text-anchor="start" fill="#333" font-weight="normal">sEV AUC: 0.98</text>
<text x="331.90" y="130.10" font-size="12" text-anchor="start" fill="#000" font-weight="bold" stroke="#000" stroke-width="0.45">e</text>
<text x="393.70" y="130.40" font-size="7.15" text-anchor="middle" fill="#222" font-weight="normal">bvFTD versus HC</text>
<path d="M356.50,134.40 L430.90,134.40 L430.90,208.40" fill="none" stroke="#a4a4a4" stroke-width="1.1"/>
<path d="M356.50,134.40 L356.50,208.40 L430.90,208.40" fill="none" stroke="#6a6a6a" stroke-width="0.9"/>
<line x1="356.50" y1="205.95" x2="358.90" y2="205.95" stroke="#6a6a6a" stroke-width="0.8"/>
<line x1="359.20" y1="208.40" x2="359.20" y2="206.10" stroke="#6a6a6a" stroke-width="0.8"/>
<text x="354.10" y="208.10" font-size="6.15" text-anchor="end" fill="#333" font-weight="normal">0</text>
<text x="359.20" y="215.90" font-size="6.15" text-anchor="middle" fill="#333" font-weight="normal">0</text>
<line x1="356.50" y1="192.10" x2="358.90" y2="192.10" stroke="#6a6a6a" stroke-width="0.8"/>
<line x1="373.05" y1="208.40" x2="373.05" y2="206.10" stroke="#6a6a6a" stroke-width="0.8"/>
<text x="354.10" y="194.25" font-size="6.15" text-anchor="end" fill="#333" font-weight="normal">20</text>
<text x="373.05" y="215.90" font-size="6.15" text-anchor="middle" fill="#333" font-weight="normal">20</text>
<line x1="356.50" y1="178.25" x2="358.90" y2="178.25" stroke="#6a6a6a" stroke-width="0.8"/>
<line x1="386.90" y1="208.40" x2="386.90" y2="206.10" stroke="#6a6a6a" stroke-width="0.8"/>
<text x="354.10" y="180.40" font-size="6.15" text-anchor="end" fill="#333" font-weight="normal">40</text>
<text x="386.90" y="215.90" font-size="6.15" text-anchor="middle" fill="#333" font-weight="normal">40</text>
<line x1="356.50" y1="164.40" x2="358.90" y2="164.40" stroke="#6a6a6a" stroke-width="0.8"/>
<line x1="400.75" y1="208.40" x2="400.75" y2="206.10" stroke="#6a6a6a" stroke-width="0.8"/>
<text x="354.10" y="166.55" font-size="6.15" text-anchor="end" fill="#333" font-weight="normal">60</text>
<text x="400.75" y="215.90" font-size="6.15" text-anchor="middle" fill="#333" font-weight="normal">60</text>
<line x1="356.50" y1="150.55" x2="358.90" y2="150.55" stroke="#6a6a6a" stroke-width="0.8"/>
<line x1="414.60" y1="208.40" x2="414.60" y2="206.10" stroke="#6a6a6a" stroke-width="0.8"/>
<text x="354.10" y="152.70" font-size="6.15" text-anchor="end" fill="#333" font-weight="normal">80</text>
<text x="414.60" y="215.90" font-size="6.15" text-anchor="middle" fill="#333" font-weight="normal">80</text>
<line x1="356.50" y1="136.70" x2="358.90" y2="136.70" stroke="#6a6a6a" stroke-width="0.8"/>
<line x1="428.45" y1="208.40" x2="428.45" y2="206.10" stroke="#6a6a6a" stroke-width="0.8"/>
<text x="354.10" y="138.85" font-size="6.15" text-anchor="end" fill="#333" font-weight="normal">100</text>
<text x="428.45" y="215.90" font-size="6.15" text-anchor="middle" fill="#333" font-weight="normal">100</text>
<text x="338.70" y="167.00" font-size="7.8" text-anchor="middle" fill="#222" font-weight="normal" transform="rotate(-90 338.70 167.00)">Sensitivity</text>
<text x="393.70" y="227.30" font-size="7.95" text-anchor="middle" fill="#222" font-weight="normal">100–specificity</text>
<line x1="359.20" y1="205.95" x2="428.45" y2="136.70" stroke="#f2a0a0" stroke-width="0.55"/>
<path d="M359.20,205.95 L359.20,156.78 L359.82,154.57 L361.07,153.39 L363.42,152.77 L365.57,150.48 L367.79,148.33 L370.49,147.71 L373.19,146.53 L376.30,144.32 L379.91,143.83 L383.51,143.42 L386.97,143.21 L389.67,142.52 L393.89,141.89 L401.58,140.92 L405.39,139.33 L409.27,138.29 L420.14,138.22 L427.90,137.39 L428.45,136.70" fill="none" stroke="#ff4a4a" stroke-width="1.0" stroke-linejoin="round"/>
<line x1="375.20" y1="198.90" x2="381.60" y2="198.90" stroke="#ff4a4a" stroke-width="1.0"/>
<text x="384.10" y="201.00" font-size="6.0" text-anchor="start" fill="#333" font-weight="normal">sEV AUC: 0.91</text>
<text x="440.90" y="130.00" font-size="12" text-anchor="start" fill="#000" font-weight="bold" stroke="#000" stroke-width="0.45">f</text>
<text x="501.70" y="130.40" font-size="7.15" text-anchor="middle" fill="#222" font-weight="normal">bvFTD versus ALS</text>
<path d="M464.50,134.40 L538.90,134.40 L538.90,208.40" fill="none" stroke="#a4a4a4" stroke-width="1.1"/>
<path d="M464.50,134.40 L464.50,208.40 L538.90,208.40" fill="none" stroke="#6a6a6a" stroke-width="0.9"/>
<line x1="464.50" y1="205.95" x2="466.90" y2="205.95" stroke="#6a6a6a" stroke-width="0.8"/>
<line x1="467.20" y1="208.40" x2="467.20" y2="206.10" stroke="#6a6a6a" stroke-width="0.8"/>
<text x="462.10" y="208.10" font-size="6.15" text-anchor="end" fill="#333" font-weight="normal">0</text>
<text x="467.20" y="215.90" font-size="6.15" text-anchor="middle" fill="#333" font-weight="normal">0</text>
<line x1="464.50" y1="192.10" x2="466.90" y2="192.10" stroke="#6a6a6a" stroke-width="0.8"/>
<line x1="481.05" y1="208.40" x2="481.05" y2="206.10" stroke="#6a6a6a" stroke-width="0.8"/>
<text x="462.10" y="194.25" font-size="6.15" text-anchor="end" fill="#333" font-weight="normal">20</text>
<text x="481.05" y="215.90" font-size="6.15" text-anchor="middle" fill="#333" font-weight="normal">20</text>
<line x1="464.50" y1="178.25" x2="466.90" y2="178.25" stroke="#6a6a6a" stroke-width="0.8"/>
<line x1="494.90" y1="208.40" x2="494.90" y2="206.10" stroke="#6a6a6a" stroke-width="0.8"/>
<text x="462.10" y="180.40" font-size="6.15" text-anchor="end" fill="#333" font-weight="normal">40</text>
<text x="494.90" y="215.90" font-size="6.15" text-anchor="middle" fill="#333" font-weight="normal">40</text>
<line x1="464.50" y1="164.40" x2="466.90" y2="164.40" stroke="#6a6a6a" stroke-width="0.8"/>
<line x1="508.75" y1="208.40" x2="508.75" y2="206.10" stroke="#6a6a6a" stroke-width="0.8"/>
<text x="462.10" y="166.55" font-size="6.15" text-anchor="end" fill="#333" font-weight="normal">60</text>
<text x="508.75" y="215.90" font-size="6.15" text-anchor="middle" fill="#333" font-weight="normal">60</text>
<line x1="464.50" y1="150.55" x2="466.90" y2="150.55" stroke="#6a6a6a" stroke-width="0.8"/>
<line x1="522.60" y1="208.40" x2="522.60" y2="206.10" stroke="#6a6a6a" stroke-width="0.8"/>
<text x="462.10" y="152.70" font-size="6.15" text-anchor="end" fill="#333" font-weight="normal">80</text>
<text x="522.60" y="215.90" font-size="6.15" text-anchor="middle" fill="#333" font-weight="normal">80</text>
<line x1="464.50" y1="136.70" x2="466.90" y2="136.70" stroke="#6a6a6a" stroke-width="0.8"/>
<line x1="536.45" y1="208.40" x2="536.45" y2="206.10" stroke="#6a6a6a" stroke-width="0.8"/>
<text x="462.10" y="138.85" font-size="6.15" text-anchor="end" fill="#333" font-weight="normal">100</text>
<text x="536.45" y="215.90" font-size="6.15" text-anchor="middle" fill="#333" font-weight="normal">100</text>
<text x="446.70" y="167.00" font-size="7.8" text-anchor="middle" fill="#222" font-weight="normal" transform="rotate(-90 446.70 167.00)">Sensitivity</text>
<text x="501.70" y="227.30" font-size="7.95" text-anchor="middle" fill="#222" font-weight="normal">100–specificity</text>
<line x1="467.20" y1="205.95" x2="536.45" y2="136.70" stroke="#f2a0a0" stroke-width="0.55"/>
<path d="M467.20,205.95 L467.20,171.53 L467.68,157.41 L469.69,156.78 L472.32,156.09 L474.33,154.08 L476.27,152.07 L479.67,151.38 L481.67,149.79 L483.68,148.68 L485.07,146.33 L487.70,145.77 L493.10,145.08 L495.80,143.69 L498.29,143.49 L502.79,142.52 L504.73,140.58 L508.61,140.02 L513.67,138.22 L520.11,137.39 L530.43,137.39 L536.17,137.18 L536.45,136.70" fill="none" stroke="#ff4a4a" stroke-width="1.0" stroke-linejoin="round"/>
<line x1="483.20" y1="198.90" x2="489.60" y2="198.90" stroke="#ff4a4a" stroke-width="1.0"/>
<text x="492.10" y="201.00" font-size="6.0" text-anchor="start" fill="#333" font-weight="normal">sEV AUC: 0.89</text>
<text x="0.30" y="238.00" font-size="12" text-anchor="start" fill="#000" font-weight="bold" stroke="#000" stroke-width="0.45">g</text>
<rect x="0.90" y="265.90" width="8.68" height="7.50" fill="rgb(0,0,200)"/>
<text x="5.22" y="270.23" font-size="1.7" text-anchor="middle" fill="#303030" font-weight="normal">1.00</text>
<rect x="9.53" y="265.90" width="8.68" height="7.50" fill="rgb(55,55,212)"/>
<text x="13.85" y="270.23" font-size="1.7" text-anchor="middle" fill="#303030" font-weight="normal">0.75</text>
<rect x="18.16" y="265.90" width="8.68" height="7.50" fill="rgb(255,84,84)"/>
<text x="22.48" y="270.23" font-size="1.7" text-anchor="middle" fill="#303030" font-weight="normal">-0.56</text>
<rect x="26.79" y="265.90" width="8.68" height="7.50" fill="rgb(255,224,224)"/>
<text x="31.11" y="270.23" font-size="1.7" text-anchor="middle" fill="#303030" font-weight="normal">-0.10</text>
<rect x="35.42" y="265.90" width="8.68" height="7.50" fill="rgb(116,116,225)"/>
<text x="39.73" y="270.23" font-size="1.7" text-anchor="middle" fill="#303030" font-weight="normal">0.52</text>
<rect x="44.05" y="265.90" width="8.68" height="7.50" fill="rgb(255,72,72)"/>
<text x="48.37" y="270.23" font-size="1.7" text-anchor="middle" fill="#303030" font-weight="normal">-0.60</text>
<rect x="52.68" y="265.90" width="8.68" height="7.50" fill="rgb(255,242,242)"/>
<text x="56.99" y="270.23" font-size="1.7" text-anchor="middle" fill="#303030" font-weight="normal">-0.04</text>
<rect x="61.31" y="265.90" width="8.68" height="7.50" fill="rgb(175,175,237)"/>
<text x="65.62" y="270.23" font-size="1.7" text-anchor="middle" fill="#303030" font-weight="normal">0.30</text>
<rect x="9.53" y="273.35" width="8.68" height="7.50" fill="rgb(0,0,200)"/>
<text x="13.85" y="277.68" font-size="1.7" text-anchor="middle" fill="#303030" font-weight="normal">1.00</text>
<rect x="18.16" y="273.35" width="8.68" height="7.50" fill="rgb(255,127,127)"/>
<text x="22.48" y="277.68" font-size="1.7" text-anchor="middle" fill="#303030" font-weight="normal">-0.42</text>
<rect x="26.79" y="273.35" width="8.68" height="7.50" fill="rgb(255,224,224)"/>
<text x="31.11" y="277.68" font-size="1.7" text-anchor="middle" fill="#303030" font-weight="normal">-0.10</text>
<rect x="35.42" y="273.35" width="8.68" height="7.50" fill="rgb(162,162,234)"/>
<text x="39.73" y="277.68" font-size="1.7" text-anchor="middle" fill="#303030" font-weight="normal">0.35</text>
<rect x="44.05" y="273.35" width="8.68" height="7.50" fill="rgb(255,139,139)"/>
<text x="48.37" y="277.68" font-size="1.7" text-anchor="middle" fill="#303030" font-weight="normal">-0.38</text>
<rect x="52.68" y="273.35" width="8.68" height="7.50" fill="rgb(255,200,200)"/>
<text x="56.99" y="277.68" font-size="1.7" text-anchor="middle" fill="#303030" font-weight="normal">-0.18</text>
<rect x="61.31" y="273.35" width="8.68" height="7.50" fill="rgb(175,175,237)"/>
<text x="65.62" y="277.68" font-size="1.7" text-anchor="middle" fill="#303030" font-weight="normal">0.30</text>
<rect x="18.16" y="280.80" width="8.68" height="7.50" fill="rgb(0,0,200)"/>
<text x="22.48" y="285.12" font-size="1.7" text-anchor="middle" fill="#303030" font-weight="normal">1.00</text>
<rect x="26.79" y="280.80" width="8.68" height="7.50" fill="rgb(217,217,246)"/>
<text x="31.11" y="285.12" font-size="1.7" text-anchor="middle" fill="#303030" font-weight="normal">0.14</text>
<rect x="35.42" y="280.80" width="8.68" height="7.50" fill="rgb(255,0,0)"/>
<text x="39.73" y="285.12" font-size="1.7" text-anchor="middle" fill="#303030" font-weight="normal">-0.84</text>
<rect x="44.05" y="280.80" width="8.68" height="7.50" fill="rgb(69,69,214)"/>
<text x="48.37" y="285.12" font-size="1.7" text-anchor="middle" fill="#303030" font-weight="normal">0.70</text>
<rect x="52.68" y="280.80" width="8.68" height="7.50" fill="rgb(244,244,252)"/>
<text x="56.99" y="285.12" font-size="1.7" text-anchor="middle" fill="#303030" font-weight="normal">0.04</text>
<rect x="61.31" y="280.80" width="8.68" height="7.50" fill="rgb(255,157,157)"/>
<text x="65.62" y="285.12" font-size="1.7" text-anchor="middle" fill="#303030" font-weight="normal">-0.32</text>
<rect x="26.79" y="288.25" width="8.68" height="7.50" fill="rgb(0,0,200)"/>
<text x="31.11" y="292.58" font-size="1.7" text-anchor="middle" fill="#303030" font-weight="normal">1.00</text>
<rect x="35.42" y="288.25" width="8.68" height="7.50" fill="rgb(215,215,246)"/>
<text x="39.73" y="292.58" font-size="1.7" text-anchor="middle" fill="#303030" font-weight="normal">0.15</text>
<rect x="44.05" y="288.25" width="8.68" height="7.50" fill="rgb(233,233,250)"/>
<text x="48.37" y="292.58" font-size="1.7" text-anchor="middle" fill="#303030" font-weight="normal">0.08</text>
<rect x="52.68" y="288.25" width="8.68" height="7.50" fill="rgb(228,228,249)"/>
<text x="56.99" y="292.58" font-size="1.7" text-anchor="middle" fill="#303030" font-weight="normal">0.10</text>
<rect x="61.31" y="288.25" width="8.68" height="7.50" fill="rgb(255,163,163)"/>
<text x="65.62" y="292.58" font-size="1.7" text-anchor="middle" fill="#303030" font-weight="normal">-0.30</text>
<rect x="35.42" y="295.70" width="8.68" height="7.50" fill="rgb(0,0,200)"/>
<text x="39.73" y="300.03" font-size="1.7" text-anchor="middle" fill="#303030" font-weight="normal">1.00</text>
<rect x="44.05" y="295.70" width="8.68" height="7.50" fill="rgb(255,6,6)"/>
<text x="48.37" y="300.03" font-size="1.7" text-anchor="middle" fill="#303030" font-weight="normal">-0.82</text>
<rect x="52.68" y="295.70" width="8.68" height="7.50" fill="rgb(252,252,254)"/>
<text x="56.99" y="300.03" font-size="1.7" text-anchor="middle" fill="#303030" font-weight="normal">0.01</text>
<rect x="61.31" y="295.70" width="8.68" height="7.50" fill="rgb(162,162,234)"/>
<text x="65.62" y="300.03" font-size="1.7" text-anchor="middle" fill="#303030" font-weight="normal">0.35</text>
<rect x="44.05" y="303.15" width="8.68" height="7.50" fill="rgb(0,0,200)"/>
<text x="48.37" y="307.48" font-size="1.7" text-anchor="middle" fill="#303030" font-weight="normal">1.00</text>
<rect x="52.68" y="303.15" width="8.68" height="7.50" fill="rgb(255,248,248)"/>
<text x="56.99" y="307.48" font-size="1.7" text-anchor="middle" fill="#303030" font-weight="normal">-0.02</text>
<rect x="61.31" y="303.15" width="8.68" height="7.50" fill="rgb(255,200,200)"/>
<text x="65.62" y="307.48" font-size="1.7" text-anchor="middle" fill="#303030" font-weight="normal">-0.18</text>
<rect x="52.68" y="310.60" width="8.68" height="7.50" fill="rgb(0,0,200)"/>
<text x="56.99" y="314.93" font-size="1.7" text-anchor="middle" fill="#303030" font-weight="normal">1.00</text>
<rect x="61.31" y="310.60" width="8.68" height="7.50" fill="rgb(255,163,163)"/>
<text x="65.62" y="314.93" font-size="1.7" text-anchor="middle" fill="#303030" font-weight="normal">-0.30</text>
<rect x="61.31" y="318.05" width="8.68" height="7.50" fill="rgb(0,0,200)"/>
<text x="65.62" y="322.38" font-size="1.7" text-anchor="middle" fill="#303030" font-weight="normal">1.00</text>
<text x="6.72" y="263.90" font-size="3.4" text-anchor="start" fill="#333" font-weight="normal" transform="rotate(-90 6.72 263.90)">MMSE</text>
<text x="15.35" y="263.90" font-size="3.4" text-anchor="start" fill="#333" font-weight="normal" transform="rotate(-90 15.35 263.90)">MoCA</text>
<text x="23.98" y="263.90" font-size="3.4" text-anchor="start" fill="#333" font-weight="normal" transform="rotate(-90 23.98 263.90)">PSP-RS</text>
<text x="32.61" y="263.90" font-size="3.4" text-anchor="start" fill="#333" font-weight="normal" transform="rotate(-90 32.61 263.90)">PSP-CDS</text>
<text x="41.23" y="263.90" font-size="3.4" text-anchor="start" fill="#333" font-weight="normal" transform="rotate(-90 41.23 263.90)">SEADL</text>
<text x="49.87" y="263.90" font-size="3.4" text-anchor="start" fill="#333" font-weight="normal" transform="rotate(-90 49.87 263.90)">CGIs</text>
<text x="58.49" y="263.90" font-size="3.4" text-anchor="start" fill="#333" font-weight="normal" transform="rotate(-90 58.49 263.90)">Plasma NfL</text>
<text x="67.12" y="263.90" font-size="3.4" text-anchor="start" fill="#333" font-weight="normal" transform="rotate(-90 67.12 263.90)">sEV 3R/4R tau ratio</text>
<text x="71.44" y="270.62" font-size="3.4" text-anchor="start" fill="#333" font-weight="normal">MMSE</text>
<text x="71.44" y="278.07" font-size="3.4" text-anchor="start" fill="#333" font-weight="normal">MoCA</text>
<text x="71.44" y="285.52" font-size="3.4" text-anchor="start" fill="#333" font-weight="normal">PSP-RS</text>
<text x="71.44" y="292.98" font-size="3.4" text-anchor="start" fill="#333" font-weight="normal">PSP-CDS</text>
<text x="71.44" y="300.43" font-size="3.4" text-anchor="start" fill="#333" font-weight="normal">SEADL</text>
<text x="71.44" y="307.88" font-size="3.4" text-anchor="start" fill="#333" font-weight="normal">CGIs</text>
<text x="71.44" y="315.32" font-size="3.4" text-anchor="start" fill="#333" font-weight="normal">Plasma NfL</text>
<text x="71.44" y="322.77" font-size="3.4" text-anchor="start" fill="#333" font-weight="normal">sEV 3R/4R tau ratio</text>
<text x="10.40" y="309.00" font-size="8.1" text-anchor="start" fill="#222" font-weight="normal">PSP</text>
<defs><linearGradient id="gg" x1="0" y1="0" x2="0" y2="1"><stop offset="0" stop-color="rgb(0,0,200)"/><stop offset="0.533" stop-color="#ffffff"/><stop offset="1" stop-color="rgb(255,0,0)"/></linearGradient></defs>
<rect x="103.2" y="263.8" width="2.5" height="60.0" fill="url(#gg)"/>
<text x="106.70" y="266.35" font-size="3.8" text-anchor="start" fill="#333" font-weight="normal">0.96</text>
<text x="106.70" y="270.26" font-size="3.8" text-anchor="start" fill="#333" font-weight="normal">0.84</text>
<text x="106.70" y="274.18" font-size="3.8" text-anchor="start" fill="#333" font-weight="normal">0.72</text>
<text x="106.70" y="278.09" font-size="3.8" text-anchor="start" fill="#333" font-weight="normal">0.60</text>
<text x="106.70" y="282.00" font-size="3.8" text-anchor="start" fill="#333" font-weight="normal">0.48</text>
<text x="106.70" y="285.92" font-size="3.8" text-anchor="start" fill="#333" font-weight="normal">0.36</text>
<text x="106.70" y="289.83" font-size="3.8" text-anchor="start" fill="#333" font-weight="normal">0.24</text>
<text x="106.70" y="293.74" font-size="3.8" text-anchor="start" fill="#333" font-weight="normal">0.12</text>
<text x="106.70" y="297.66" font-size="3.8" text-anchor="start" fill="#333" font-weight="normal">0</text>
<text x="106.70" y="301.57" font-size="3.8" text-anchor="start" fill="#333" font-weight="normal">−0.12</text>
<text x="106.70" y="305.48" font-size="3.8" text-anchor="start" fill="#333" font-weight="normal">−0.24</text>
<text x="106.70" y="309.40" font-size="3.8" text-anchor="start" fill="#333" font-weight="normal">−0.36</text>
<text x="106.70" y="313.31" font-size="3.8" text-anchor="start" fill="#333" font-weight="normal">−0.48</text>
<text x="106.70" y="317.22" font-size="3.8" text-anchor="start" fill="#333" font-weight="normal">−0.60</text>
<text x="106.70" y="321.14" font-size="3.8" text-anchor="start" fill="#333" font-weight="normal">−0.72</text>
<text x="106.70" y="325.05" font-size="3.8" text-anchor="start" fill="#333" font-weight="normal">−0.84</text>
<text x="1.70" y="353.60" font-size="12" text-anchor="start" fill="#000" font-weight="bold" stroke="#000" stroke-width="0.45">i</text>
<rect x="8.10" y="377.80" width="6.84" height="6.37" fill="rgb(0,0,200)"/>
<text x="11.49" y="381.56" font-size="1.7" text-anchor="middle" fill="#303030" font-weight="normal">1.00</text>
<rect x="14.89" y="377.80" width="6.84" height="6.37" fill="rgb(15,15,203)"/>
<text x="18.29" y="381.56" font-size="1.7" text-anchor="middle" fill="#303030" font-weight="normal">0.90</text>
<rect x="21.68" y="377.80" width="6.84" height="6.37" fill="rgb(249,249,253)"/>
<text x="25.07" y="381.56" font-size="1.7" text-anchor="middle" fill="#303030" font-weight="normal">0.02</text>
<rect x="28.47" y="377.80" width="6.84" height="6.37" fill="rgb(255,0,0)"/>
<text x="31.86" y="381.56" font-size="1.7" text-anchor="middle" fill="#303030" font-weight="normal">-0.48</text>
<rect x="35.26" y="377.80" width="6.84" height="6.37" fill="rgb(255,116,116)"/>
<text x="38.66" y="381.56" font-size="1.7" text-anchor="middle" fill="#303030" font-weight="normal">-0.26</text>
<rect x="42.05" y="377.80" width="6.84" height="6.37" fill="rgb(255,63,63)"/>
<text x="45.45" y="381.56" font-size="1.7" text-anchor="middle" fill="#303030" font-weight="normal">-0.36</text>
<rect x="48.84" y="377.80" width="6.84" height="6.37" fill="rgb(255,217,217)"/>
<text x="52.24" y="381.56" font-size="1.7" text-anchor="middle" fill="#303030" font-weight="normal">-0.07</text>
<rect x="55.63" y="377.80" width="6.84" height="6.37" fill="rgb(252,252,254)"/>
<text x="59.03" y="381.56" font-size="1.7" text-anchor="middle" fill="#303030" font-weight="normal">0.01</text>
<rect x="62.42" y="377.80" width="6.84" height="6.37" fill="rgb(255,127,127)"/>
<text x="65.81" y="381.56" font-size="1.7" text-anchor="middle" fill="#303030" font-weight="normal">-0.24</text>
<rect x="14.89" y="384.12" width="6.84" height="6.37" fill="rgb(0,0,200)"/>
<text x="18.29" y="387.88" font-size="1.7" text-anchor="middle" fill="#303030" font-weight="normal">1.00</text>
<rect x="21.68" y="384.12" width="6.84" height="6.37" fill="rgb(228,228,249)"/>
<text x="25.07" y="387.88" font-size="1.7" text-anchor="middle" fill="#303030" font-weight="normal">0.10</text>
<rect x="28.47" y="384.12" width="6.84" height="6.37" fill="rgb(255,42,42)"/>
<text x="31.86" y="387.88" font-size="1.7" text-anchor="middle" fill="#303030" font-weight="normal">-0.40</text>
<rect x="35.26" y="384.12" width="6.84" height="6.37" fill="rgb(255,138,138)"/>
<text x="38.66" y="387.88" font-size="1.7" text-anchor="middle" fill="#303030" font-weight="normal">-0.22</text>
<rect x="42.05" y="384.12" width="6.84" height="6.37" fill="rgb(255,63,63)"/>
<text x="45.45" y="387.88" font-size="1.7" text-anchor="middle" fill="#303030" font-weight="normal">-0.36</text>
<rect x="48.84" y="384.12" width="6.84" height="6.37" fill="rgb(249,249,253)"/>
<text x="52.24" y="387.88" font-size="1.7" text-anchor="middle" fill="#303030" font-weight="normal">0.02</text>
<rect x="55.63" y="384.12" width="6.84" height="6.37" fill="rgb(255,201,201)"/>
<text x="59.03" y="387.88" font-size="1.7" text-anchor="middle" fill="#303030" font-weight="normal">-0.10</text>
<rect x="62.42" y="384.12" width="6.84" height="6.37" fill="rgb(255,116,116)"/>
<text x="65.81" y="387.88" font-size="1.7" text-anchor="middle" fill="#303030" font-weight="normal">-0.26</text>
<rect x="21.68" y="390.44" width="6.84" height="6.37" fill="rgb(0,0,200)"/>
<text x="25.07" y="394.20" font-size="1.7" text-anchor="middle" fill="#303030" font-weight="normal">1.00</text>
<rect x="28.47" y="390.44" width="6.84" height="6.37" fill="rgb(127,127,227)"/>
<text x="31.86" y="394.20" font-size="1.7" text-anchor="middle" fill="#303030" font-weight="normal">0.48</text>
<rect x="35.26" y="390.44" width="6.84" height="6.37" fill="rgb(207,207,244)"/>
<text x="38.66" y="394.20" font-size="1.7" text-anchor="middle" fill="#303030" font-weight="normal">0.18</text>
<rect x="42.05" y="390.44" width="6.84" height="6.37" fill="rgb(196,196,242)"/>
<text x="45.45" y="394.20" font-size="1.7" text-anchor="middle" fill="#303030" font-weight="normal">0.22</text>
<rect x="48.84" y="390.44" width="6.84" height="6.37" fill="rgb(223,223,248)"/>
<text x="52.24" y="394.20" font-size="1.7" text-anchor="middle" fill="#303030" font-weight="normal">0.12</text>
<rect x="55.63" y="390.44" width="6.84" height="6.37" fill="rgb(228,228,249)"/>
<text x="59.03" y="394.20" font-size="1.7" text-anchor="middle" fill="#303030" font-weight="normal">0.10</text>
<rect x="62.42" y="390.44" width="6.84" height="6.37" fill="rgb(116,116,225)"/>
<text x="65.81" y="394.20" font-size="1.7" text-anchor="middle" fill="#303030" font-weight="normal">0.52</text>
<rect x="28.47" y="396.76" width="6.84" height="6.37" fill="rgb(0,0,200)"/>
<text x="31.86" y="400.52" font-size="1.7" text-anchor="middle" fill="#303030" font-weight="normal">1.00</text>
<rect x="35.26" y="396.76" width="6.84" height="6.37" fill="rgb(159,159,234)"/>
<text x="38.66" y="400.52" font-size="1.7" text-anchor="middle" fill="#303030" font-weight="normal">0.36</text>
<rect x="42.05" y="396.76" width="6.84" height="6.37" fill="rgb(196,196,242)"/>
<text x="45.45" y="400.52" font-size="1.7" text-anchor="middle" fill="#303030" font-weight="normal">0.22</text>
<rect x="48.84" y="396.76" width="6.84" height="6.37" fill="rgb(207,207,244)"/>
<text x="52.24" y="400.52" font-size="1.7" text-anchor="middle" fill="#303030" font-weight="normal">0.18</text>
<rect x="55.63" y="396.76" width="6.84" height="6.37" fill="rgb(255,249,249)"/>
<text x="59.03" y="400.52" font-size="1.7" text-anchor="middle" fill="#303030" font-weight="normal">-0.01</text>
<rect x="62.42" y="396.76" width="6.84" height="6.37" fill="rgb(159,159,234)"/>
<text x="65.81" y="400.52" font-size="1.7" text-anchor="middle" fill="#303030" font-weight="normal">0.36</text>
<rect x="35.26" y="403.08" width="6.84" height="6.37" fill="rgb(0,0,200)"/>
<text x="38.66" y="406.84" font-size="1.7" text-anchor="middle" fill="#303030" font-weight="normal">1.00</text>
<rect x="42.05" y="403.08" width="6.84" height="6.37" fill="rgb(42,42,209)"/>
<text x="45.45" y="406.84" font-size="1.7" text-anchor="middle" fill="#303030" font-weight="normal">0.80</text>
<rect x="48.84" y="403.08" width="6.84" height="6.37" fill="rgb(223,223,248)"/>
<text x="52.24" y="406.84" font-size="1.7" text-anchor="middle" fill="#303030" font-weight="normal">0.12</text>
<rect x="55.63" y="403.08" width="6.84" height="6.37" fill="rgb(233,233,250)"/>
<text x="59.03" y="406.84" font-size="1.7" text-anchor="middle" fill="#303030" font-weight="normal">0.08</text>
<rect x="62.42" y="403.08" width="6.84" height="6.37" fill="rgb(164,164,235)"/>
<text x="65.81" y="406.84" font-size="1.7" text-anchor="middle" fill="#303030" font-weight="normal">0.34</text>
<rect x="42.05" y="409.40" width="6.84" height="6.37" fill="rgb(0,0,200)"/>
<text x="45.45" y="413.16" font-size="1.7" text-anchor="middle" fill="#303030" font-weight="normal">1.00</text>
<rect x="48.84" y="409.40" width="6.84" height="6.37" fill="rgb(207,207,244)"/>
<text x="52.24" y="413.16" font-size="1.7" text-anchor="middle" fill="#303030" font-weight="normal">0.18</text>
<rect x="55.63" y="409.40" width="6.84" height="6.37" fill="rgb(215,215,246)"/>
<text x="59.03" y="413.16" font-size="1.7" text-anchor="middle" fill="#303030" font-weight="normal">0.15</text>
<rect x="62.42" y="409.40" width="6.84" height="6.37" fill="rgb(148,148,232)"/>
<text x="65.81" y="413.16" font-size="1.7" text-anchor="middle" fill="#303030" font-weight="normal">0.40</text>
<rect x="48.84" y="415.72" width="6.84" height="6.37" fill="rgb(0,0,200)"/>
<text x="52.24" y="419.48" font-size="1.7" text-anchor="middle" fill="#303030" font-weight="normal">1.00</text>
<rect x="55.63" y="415.72" width="6.84" height="6.37" fill="rgb(249,249,253)"/>
<text x="59.03" y="419.48" font-size="1.7" text-anchor="middle" fill="#303030" font-weight="normal">0.02</text>
<rect x="62.42" y="415.72" width="6.84" height="6.37" fill="rgb(159,159,234)"/>
<text x="65.81" y="419.48" font-size="1.7" text-anchor="middle" fill="#303030" font-weight="normal">0.36</text>
<rect x="55.63" y="422.04" width="6.84" height="6.37" fill="rgb(0,0,200)"/>
<text x="59.03" y="425.80" font-size="1.7" text-anchor="middle" fill="#303030" font-weight="normal">1.00</text>
<rect x="62.42" y="422.04" width="6.84" height="6.37" fill="rgb(148,148,232)"/>
<text x="65.81" y="425.80" font-size="1.7" text-anchor="middle" fill="#303030" font-weight="normal">0.40</text>
<rect x="62.42" y="428.36" width="6.84" height="6.37" fill="rgb(0,0,200)"/>
<text x="65.81" y="432.12" font-size="1.7" text-anchor="middle" fill="#303030" font-weight="normal">1.00</text>
<text x="12.99" y="375.80" font-size="3.4" text-anchor="start" fill="#333" font-weight="normal" transform="rotate(-90 12.99 375.80)">MMSE</text>
<text x="19.79" y="375.80" font-size="3.4" text-anchor="start" fill="#333" font-weight="normal" transform="rotate(-90 19.79 375.80)">MoCA</text>
<text x="26.57" y="375.80" font-size="3.4" text-anchor="start" fill="#333" font-weight="normal" transform="rotate(-90 26.57 375.80)">NPI-Q</text>
<text x="33.36" y="375.80" font-size="3.4" text-anchor="start" fill="#333" font-weight="normal" transform="rotate(-90 33.36 375.80)">FAQ</text>
<text x="40.16" y="375.80" font-size="3.4" text-anchor="start" fill="#333" font-weight="normal" transform="rotate(-90 40.16 375.80)">CDR-SB</text>
<text x="46.95" y="375.80" font-size="3.4" text-anchor="start" fill="#333" font-weight="normal" transform="rotate(-90 46.95 375.80)">CDR plus NACC FTLD</text>
<text x="53.74" y="375.80" font-size="3.4" text-anchor="start" fill="#333" font-weight="normal" transform="rotate(-90 53.74 375.80)">CBI-M</text>
<text x="60.53" y="375.80" font-size="3.4" text-anchor="start" fill="#333" font-weight="normal" transform="rotate(-90 60.53 375.80)">Plasma NfL</text>
<text x="67.31" y="375.80" font-size="3.4" text-anchor="start" fill="#333" font-weight="normal" transform="rotate(-90 67.31 375.80)">sEV 3R/4R tau ratio</text>
<text x="70.71" y="381.96" font-size="3.4" text-anchor="start" fill="#333" font-weight="normal">MMSE</text>
<text x="70.71" y="388.28" font-size="3.4" text-anchor="start" fill="#333" font-weight="normal">MoCA</text>
<text x="70.71" y="394.60" font-size="3.4" text-anchor="start" fill="#333" font-weight="normal">NPI-Q</text>
<text x="70.71" y="400.92" font-size="3.4" text-anchor="start" fill="#333" font-weight="normal">FAQ</text>
<text x="70.71" y="407.24" font-size="3.4" text-anchor="start" fill="#333" font-weight="normal">CDR-SB</text>
<text x="70.71" y="413.56" font-size="3.4" text-anchor="start" fill="#333" font-weight="normal">CDR plus NACC FTLD</text>
<text x="70.71" y="419.88" font-size="3.4" text-anchor="start" fill="#333" font-weight="normal">CBI-M</text>
<text x="70.71" y="426.20" font-size="3.4" text-anchor="start" fill="#333" font-weight="normal">Plasma NfL</text>
<text x="70.71" y="432.52" font-size="3.4" text-anchor="start" fill="#333" font-weight="normal">sEV 3R/4R tau ratio</text>
<text x="11.40" y="419.70" font-size="8.8" text-anchor="start" fill="#222" font-weight="normal">bvFTD</text>
<defs><linearGradient id="gi" x1="0" y1="0" x2="0" y2="1"><stop offset="0" stop-color="rgb(0,0,200)"/><stop offset="0.667" stop-color="#ffffff"/><stop offset="1" stop-color="rgb(255,0,0)"/></linearGradient></defs>
<rect x="105.3" y="375.3" width="2.2" height="56.80000000000001" fill="url(#gi)"/>
<text x="108.50" y="377.85" font-size="3.8" text-anchor="start" fill="#333" font-weight="normal">0.96</text>
<text x="108.50" y="382.48" font-size="3.8" text-anchor="start" fill="#333" font-weight="normal">0.84</text>
<text x="108.50" y="387.10" font-size="3.8" text-anchor="start" fill="#333" font-weight="normal">0.72</text>
<text x="108.50" y="391.73" font-size="3.8" text-anchor="start" fill="#333" font-weight="normal">0.60</text>
<text x="108.50" y="396.35" font-size="3.8" text-anchor="start" fill="#333" font-weight="normal">0.48</text>
<text x="108.50" y="400.98" font-size="3.8" text-anchor="start" fill="#333" font-weight="normal">0.36</text>
<text x="108.50" y="405.60" font-size="3.8" text-anchor="start" fill="#333" font-weight="normal">0.24</text>
<text x="108.50" y="410.23" font-size="3.8" text-anchor="start" fill="#333" font-weight="normal">0.12</text>
<text x="108.50" y="414.85" font-size="3.8" text-anchor="start" fill="#333" font-weight="normal">0</text>
<text x="108.50" y="419.48" font-size="3.8" text-anchor="start" fill="#333" font-weight="normal">−0.12</text>
<text x="108.50" y="424.10" font-size="3.8" text-anchor="start" fill="#333" font-weight="normal">−0.24</text>
<text x="108.50" y="428.73" font-size="3.8" text-anchor="start" fill="#333" font-weight="normal">−0.36</text>
<text x="108.50" y="433.35" font-size="3.8" text-anchor="start" fill="#333" font-weight="normal">−0.48</text>
<text x="135.00" y="238.00" font-size="12" text-anchor="start" fill="#000" font-weight="bold" stroke="#000" stroke-width="0.45">h</text>
<text x="138.44" y="268.62" font-size="3.2" text-anchor="middle" fill="#555" font-weight="normal">-</text>
<rect x="142.88" y="263.80" width="8.88" height="7.85" fill="#f78c8c" stroke="#3a3a3a" stroke-width="0.45"/>
<text x="147.32" y="268.33" font-size="1.6" text-anchor="middle" fill="#703030" font-weight="normal">0.00</text>
<rect x="151.76" y="263.80" width="8.88" height="7.85" fill="#f78c8c" stroke="#3a3a3a" stroke-width="0.45"/>
<text x="156.20" y="268.33" font-size="1.6" text-anchor="middle" fill="#703030" font-weight="normal">0.00</text>
<rect x="160.64" y="263.80" width="8.88" height="7.85" fill="#ffffff" stroke="#3a3a3a" stroke-width="0.45"/>
<rect x="169.52" y="263.80" width="8.88" height="7.85" fill="#ee3030" stroke="#3a3a3a" stroke-width="0.45"/>
<text x="173.96" y="268.33" font-size="1.6" text-anchor="middle" fill="#703030" font-weight="normal">0.00</text>
<rect x="178.40" y="263.80" width="8.88" height="7.85" fill="#f78c8c" stroke="#3a3a3a" stroke-width="0.45"/>
<text x="182.84" y="268.33" font-size="1.6" text-anchor="middle" fill="#703030" font-weight="normal">0.00</text>
<rect x="187.28" y="263.80" width="8.88" height="7.85" fill="#ffffff" stroke="#3a3a3a" stroke-width="0.45"/>
<rect x="196.16" y="263.80" width="8.88" height="7.85" fill="#f78c8c" stroke="#3a3a3a" stroke-width="0.45"/>
<text x="200.60" y="268.33" font-size="1.6" text-anchor="middle" fill="#703030" font-weight="normal">0.00</text>
<text x="147.32" y="276.48" font-size="3.2" text-anchor="middle" fill="#555" font-weight="normal">-</text>
<rect x="151.76" y="271.65" width="8.88" height="7.85" fill="#f78c8c" stroke="#3a3a3a" stroke-width="0.45"/>
<text x="156.20" y="276.18" font-size="1.6" text-anchor="middle" fill="#703030" font-weight="normal">0.00</text>
<rect x="160.64" y="271.65" width="8.88" height="7.85" fill="#ffffff" stroke="#3a3a3a" stroke-width="0.45"/>
<rect x="169.52" y="271.65" width="8.88" height="7.85" fill="#ee3030" stroke="#3a3a3a" stroke-width="0.45"/>
<text x="173.96" y="276.18" font-size="1.6" text-anchor="middle" fill="#703030" font-weight="normal">0.00</text>
<rect x="178.40" y="271.65" width="8.88" height="7.85" fill="#f78c8c" stroke="#3a3a3a" stroke-width="0.45"/>
<text x="182.84" y="276.18" font-size="1.6" text-anchor="middle" fill="#703030" font-weight="normal">0.00</text>
<rect x="187.28" y="271.65" width="8.88" height="7.85" fill="#f78c8c" stroke="#3a3a3a" stroke-width="0.45"/>
<text x="191.72" y="276.18" font-size="1.6" text-anchor="middle" fill="#703030" font-weight="normal">0.00</text>
<rect x="196.16" y="271.65" width="8.88" height="7.85" fill="#f78c8c" stroke="#3a3a3a" stroke-width="0.45"/>
<text x="200.60" y="276.18" font-size="1.6" text-anchor="middle" fill="#703030" font-weight="normal">0.00</text>
<text x="156.20" y="284.32" font-size="3.2" text-anchor="middle" fill="#555" font-weight="normal">-</text>
<rect x="160.64" y="279.50" width="8.88" height="7.85" fill="#f78c8c" stroke="#3a3a3a" stroke-width="0.45"/>
<text x="165.08" y="284.03" font-size="1.6" text-anchor="middle" fill="#703030" font-weight="normal">0.00</text>
<rect x="169.52" y="279.50" width="8.88" height="7.85" fill="#ffffff" stroke="#3a3a3a" stroke-width="0.45"/>
<rect x="178.40" y="279.50" width="8.88" height="7.85" fill="#ffffff" stroke="#3a3a3a" stroke-width="0.45"/>
<rect x="187.28" y="279.50" width="8.88" height="7.85" fill="#ffffff" stroke="#3a3a3a" stroke-width="0.45"/>
<rect x="196.16" y="279.50" width="8.88" height="7.85" fill="#f78c8c" stroke="#3a3a3a" stroke-width="0.45"/>
<text x="200.60" y="284.03" font-size="1.6" text-anchor="middle" fill="#703030" font-weight="normal">0.00</text>
<text x="165.08" y="292.18" font-size="3.2" text-anchor="middle" fill="#555" font-weight="normal">-</text>
<rect x="169.52" y="287.35" width="8.88" height="7.85" fill="#ffffff" stroke="#3a3a3a" stroke-width="0.45"/>
<rect x="178.40" y="287.35" width="8.88" height="7.85" fill="#ffffff" stroke="#3a3a3a" stroke-width="0.45"/>
<rect x="187.28" y="287.35" width="8.88" height="7.85" fill="#ffffff" stroke="#3a3a3a" stroke-width="0.45"/>
<rect x="196.16" y="287.35" width="8.88" height="7.85" fill="#f78c8c" stroke="#3a3a3a" stroke-width="0.45"/>
<text x="200.60" y="291.88" font-size="1.6" text-anchor="middle" fill="#703030" font-weight="normal">0.00</text>
<text x="173.96" y="300.02" font-size="3.2" text-anchor="middle" fill="#555" font-weight="normal">-</text>
<rect x="178.40" y="295.20" width="8.88" height="7.85" fill="#ffffff" stroke="#3a3a3a" stroke-width="0.45"/>
<rect x="187.28" y="295.20" width="8.88" height="7.85" fill="#ffffff" stroke="#3a3a3a" stroke-width="0.45"/>
<rect x="196.16" y="295.20" width="8.88" height="7.85" fill="#f78c8c" stroke="#3a3a3a" stroke-width="0.45"/>
<text x="200.60" y="299.73" font-size="1.6" text-anchor="middle" fill="#703030" font-weight="normal">0.00</text>
<text x="182.84" y="307.88" font-size="3.2" text-anchor="middle" fill="#555" font-weight="normal">-</text>
<rect x="187.28" y="303.05" width="8.88" height="7.85" fill="#ffffff" stroke="#3a3a3a" stroke-width="0.45"/>
<rect x="196.16" y="303.05" width="8.88" height="7.85" fill="#f78c8c" stroke="#3a3a3a" stroke-width="0.45"/>
<text x="200.60" y="307.58" font-size="1.6" text-anchor="middle" fill="#703030" font-weight="normal">0.00</text>
<text x="191.72" y="315.72" font-size="3.2" text-anchor="middle" fill="#555" font-weight="normal">-</text>
<rect x="196.16" y="310.90" width="8.88" height="7.85" fill="#f78c8c" stroke="#3a3a3a" stroke-width="0.45"/>
<text x="200.60" y="315.43" font-size="1.6" text-anchor="middle" fill="#703030" font-weight="normal">0.00</text>
<text x="200.60" y="323.57" font-size="3.2" text-anchor="middle" fill="#555" font-weight="normal">-</text>
<text x="139.94" y="261.80" font-size="3.4" text-anchor="start" fill="#333" font-weight="normal" transform="rotate(-90 139.94 261.80)">MMSE</text>
<text x="148.82" y="261.80" font-size="3.4" text-anchor="start" fill="#333" font-weight="normal" transform="rotate(-90 148.82 261.80)">MoCA</text>
<text x="157.70" y="261.80" font-size="3.4" text-anchor="start" fill="#333" font-weight="normal" transform="rotate(-90 157.70 261.80)">PSP-RS</text>
<text x="166.58" y="261.80" font-size="3.4" text-anchor="start" fill="#333" font-weight="normal" transform="rotate(-90 166.58 261.80)">PSP-CDS</text>
<text x="175.46" y="261.80" font-size="3.4" text-anchor="start" fill="#333" font-weight="normal" transform="rotate(-90 175.46 261.80)">SEADL</text>
<text x="184.34" y="261.80" font-size="3.4" text-anchor="start" fill="#333" font-weight="normal" transform="rotate(-90 184.34 261.80)">CGIs</text>
<text x="193.22" y="261.80" font-size="3.4" text-anchor="start" fill="#333" font-weight="normal" transform="rotate(-90 193.22 261.80)">Plasma NfL</text>
<text x="202.10" y="261.80" font-size="3.4" text-anchor="start" fill="#333" font-weight="normal" transform="rotate(-90 202.10 261.80)">sEV 3R/4R tau ratio</text>
<text x="206.54" y="268.73" font-size="3.4" text-anchor="start" fill="#333" font-weight="normal">MMSE</text>
<text x="206.54" y="276.58" font-size="3.4" text-anchor="start" fill="#333" font-weight="normal">MoCA</text>
<text x="206.54" y="284.43" font-size="3.4" text-anchor="start" fill="#333" font-weight="normal">PSP-RS</text>
<text x="206.54" y="292.28" font-size="3.4" text-anchor="start" fill="#333" font-weight="normal">PSP-CDS</text>
<text x="206.54" y="300.12" font-size="3.4" text-anchor="start" fill="#333" font-weight="normal">SEADL</text>
<text x="206.54" y="307.98" font-size="3.4" text-anchor="start" fill="#333" font-weight="normal">CGIs</text>
<text x="206.54" y="315.82" font-size="3.4" text-anchor="start" fill="#333" font-weight="normal">Plasma NfL</text>
<text x="206.54" y="323.68" font-size="3.4" text-anchor="start" fill="#333" font-weight="normal">sEV 3R/4R tau ratio</text>
<text x="151.80" y="309.20" font-size="8.3" text-anchor="start" fill="#222" font-weight="normal">PSP</text>
<rect x="240.2" y="262.50" width="2.7" height="15.42" fill="#f59a9a"/>
<rect x="240.2" y="277.93" width="2.7" height="15.42" fill="#f05a5a"/>
<rect x="240.2" y="293.35" width="2.7" height="15.42" fill="#f20000"/>
<rect x="240.2" y="308.77" width="2.7" height="15.42" fill="#ffffff"/>
<rect x="240.2" y="262.5" width="2.7" height="61.70" fill="none" stroke="#333" stroke-width="0.4"/>
<text x="244.10" y="271.41" font-size="3.9" text-anchor="start" fill="#333" font-weight="normal">&lt;0.0500</text>
<text x="244.10" y="286.84" font-size="3.9" text-anchor="start" fill="#333" font-weight="normal">&lt;0.0001</text>
<text x="244.10" y="302.26" font-size="3.9" text-anchor="start" fill="#333" font-weight="normal">&lt;0.00001</text>
<text x="244.10" y="317.69" font-size="3.9" text-anchor="start" fill="#333" font-weight="normal">&gt;0.0500</text>
<text x="134.40" y="353.50" font-size="12" text-anchor="start" fill="#000" font-weight="bold" stroke="#000" stroke-width="0.45">j</text>
<text x="149.20" y="380.72" font-size="3.2" text-anchor="middle" fill="#555" font-weight="normal">-</text>
<rect x="152.50" y="376.70" width="6.60" height="6.25" fill="#f78c8c" stroke="#3a3a3a" stroke-width="0.45"/>
<text x="155.80" y="380.43" font-size="1.6" text-anchor="middle" fill="#703030" font-weight="normal">0.00</text>
<rect x="159.10" y="376.70" width="6.60" height="6.25" fill="#ffffff" stroke="#3a3a3a" stroke-width="0.45"/>
<rect x="165.70" y="376.70" width="6.60" height="6.25" fill="#ee3030" stroke="#3a3a3a" stroke-width="0.45"/>
<text x="169.00" y="380.43" font-size="1.6" text-anchor="middle" fill="#703030" font-weight="normal">0.00</text>
<rect x="172.30" y="376.70" width="6.60" height="6.25" fill="#f78c8c" stroke="#3a3a3a" stroke-width="0.45"/>
<text x="175.60" y="380.43" font-size="1.6" text-anchor="middle" fill="#703030" font-weight="normal">0.00</text>
<rect x="178.90" y="376.70" width="6.60" height="6.25" fill="#f78c8c" stroke="#3a3a3a" stroke-width="0.45"/>
<text x="182.20" y="380.43" font-size="1.6" text-anchor="middle" fill="#703030" font-weight="normal">0.00</text>
<rect x="185.50" y="376.70" width="6.60" height="6.25" fill="#ffffff" stroke="#3a3a3a" stroke-width="0.45"/>
<rect x="192.10" y="376.70" width="6.60" height="6.25" fill="#ffffff" stroke="#3a3a3a" stroke-width="0.45"/>
<rect x="198.70" y="376.70" width="6.60" height="6.25" fill="#f78c8c" stroke="#3a3a3a" stroke-width="0.45"/>
<text x="202.00" y="380.43" font-size="1.6" text-anchor="middle" fill="#703030" font-weight="normal">0.00</text>
<text x="155.80" y="386.97" font-size="3.2" text-anchor="middle" fill="#555" font-weight="normal">-</text>
<rect x="159.10" y="382.95" width="6.60" height="6.25" fill="#ffffff" stroke="#3a3a3a" stroke-width="0.45"/>
<rect x="165.70" y="382.95" width="6.60" height="6.25" fill="#f78c8c" stroke="#3a3a3a" stroke-width="0.45"/>
<text x="169.00" y="386.68" font-size="1.6" text-anchor="middle" fill="#703030" font-weight="normal">0.00</text>
<rect x="172.30" y="382.95" width="6.60" height="6.25" fill="#ffffff" stroke="#3a3a3a" stroke-width="0.45"/>
<rect x="178.90" y="382.95" width="6.60" height="6.25" fill="#ffffff" stroke="#3a3a3a" stroke-width="0.45"/>
<rect x="185.50" y="382.95" width="6.60" height="6.25" fill="#ffffff" stroke="#3a3a3a" stroke-width="0.45"/>
<rect x="192.10" y="382.95" width="6.60" height="6.25" fill="#ffffff" stroke="#3a3a3a" stroke-width="0.45"/>
<rect x="198.70" y="382.95" width="6.60" height="6.25" fill="#f78c8c" stroke="#3a3a3a" stroke-width="0.45"/>
<text x="202.00" y="386.68" font-size="1.6" text-anchor="middle" fill="#703030" font-weight="normal">0.00</text>
<text x="162.40" y="393.22" font-size="3.2" text-anchor="middle" fill="#555" font-weight="normal">-</text>
<rect x="165.70" y="389.20" width="6.60" height="6.25" fill="#f78c8c" stroke="#3a3a3a" stroke-width="0.45"/>
<text x="169.00" y="392.93" font-size="1.6" text-anchor="middle" fill="#703030" font-weight="normal">0.00</text>
<rect x="172.30" y="389.20" width="6.60" height="6.25" fill="#f78c8c" stroke="#3a3a3a" stroke-width="0.45"/>
<text x="175.60" y="392.93" font-size="1.6" text-anchor="middle" fill="#703030" font-weight="normal">0.00</text>
<rect x="178.90" y="389.20" width="6.60" height="6.25" fill="#f78c8c" stroke="#3a3a3a" stroke-width="0.45"/>
<text x="182.20" y="392.93" font-size="1.6" text-anchor="middle" fill="#703030" font-weight="normal">0.00</text>
<rect x="185.50" y="389.20" width="6.60" height="6.25" fill="#ffffff" stroke="#3a3a3a" stroke-width="0.45"/>
<rect x="192.10" y="389.20" width="6.60" height="6.25" fill="#ffffff" stroke="#3a3a3a" stroke-width="0.45"/>
<rect x="198.70" y="389.20" width="6.60" height="6.25" fill="#f78c8c" stroke="#3a3a3a" stroke-width="0.45"/>
<text x="202.00" y="392.93" font-size="1.6" text-anchor="middle" fill="#703030" font-weight="normal">0.00</text>
<text x="169.00" y="399.47" font-size="3.2" text-anchor="middle" fill="#555" font-weight="normal">-</text>
<rect x="172.30" y="395.45" width="6.60" height="6.25" fill="#f78c8c" stroke="#3a3a3a" stroke-width="0.45"/>
<text x="175.60" y="399.18" font-size="1.6" text-anchor="middle" fill="#703030" font-weight="normal">0.00</text>
<rect x="178.90" y="395.45" width="6.60" height="6.25" fill="#f78c8c" stroke="#3a3a3a" stroke-width="0.45"/>
<text x="182.20" y="399.18" font-size="1.6" text-anchor="middle" fill="#703030" font-weight="normal">0.00</text>
<rect x="185.50" y="395.45" width="6.60" height="6.25" fill="#f78c8c" stroke="#3a3a3a" stroke-width="0.45"/>
<text x="188.80" y="399.18" font-size="1.6" text-anchor="middle" fill="#703030" font-weight="normal">0.00</text>
<rect x="192.10" y="395.45" width="6.60" height="6.25" fill="#ffffff" stroke="#3a3a3a" stroke-width="0.45"/>
<rect x="198.70" y="395.45" width="6.60" height="6.25" fill="#f78c8c" stroke="#3a3a3a" stroke-width="0.45"/>
<text x="202.00" y="399.18" font-size="1.6" text-anchor="middle" fill="#703030" font-weight="normal">0.00</text>
<text x="175.60" y="405.72" font-size="3.2" text-anchor="middle" fill="#555" font-weight="normal">-</text>
<rect x="178.90" y="401.70" width="6.60" height="6.25" fill="#ee3030" stroke="#3a3a3a" stroke-width="0.45"/>
<text x="182.20" y="405.43" font-size="1.6" text-anchor="middle" fill="#703030" font-weight="normal">0.00</text>
<rect x="185.50" y="401.70" width="6.60" height="6.25" fill="#f78c8c" stroke="#3a3a3a" stroke-width="0.45"/>
<text x="188.80" y="405.43" font-size="1.6" text-anchor="middle" fill="#703030" font-weight="normal">0.00</text>
<rect x="192.10" y="401.70" width="6.60" height="6.25" fill="#ffffff" stroke="#3a3a3a" stroke-width="0.45"/>
<rect x="198.70" y="401.70" width="6.60" height="6.25" fill="#f78c8c" stroke="#3a3a3a" stroke-width="0.45"/>
<text x="202.00" y="405.43" font-size="1.6" text-anchor="middle" fill="#703030" font-weight="normal">0.00</text>
<text x="182.20" y="411.97" font-size="3.2" text-anchor="middle" fill="#555" font-weight="normal">-</text>
<rect x="185.50" y="407.95" width="6.60" height="6.25" fill="#f78c8c" stroke="#3a3a3a" stroke-width="0.45"/>
<text x="188.80" y="411.68" font-size="1.6" text-anchor="middle" fill="#703030" font-weight="normal">0.00</text>
<rect x="192.10" y="407.95" width="6.60" height="6.25" fill="#ffffff" stroke="#3a3a3a" stroke-width="0.45"/>
<rect x="198.70" y="407.95" width="6.60" height="6.25" fill="#f78c8c" stroke="#3a3a3a" stroke-width="0.45"/>
<text x="202.00" y="411.68" font-size="1.6" text-anchor="middle" fill="#703030" font-weight="normal">0.00</text>
<text x="188.80" y="418.22" font-size="3.2" text-anchor="middle" fill="#555" font-weight="normal">-</text>
<rect x="192.10" y="414.20" width="6.60" height="6.25" fill="#ffffff" stroke="#3a3a3a" stroke-width="0.45"/>
<rect x="198.70" y="414.20" width="6.60" height="6.25" fill="#f78c8c" stroke="#3a3a3a" stroke-width="0.45"/>
<text x="202.00" y="417.93" font-size="1.6" text-anchor="middle" fill="#703030" font-weight="normal">0.00</text>
<text x="195.40" y="424.47" font-size="3.2" text-anchor="middle" fill="#555" font-weight="normal">-</text>
<rect x="198.70" y="420.45" width="6.60" height="6.25" fill="#f78c8c" stroke="#3a3a3a" stroke-width="0.45"/>
<text x="202.00" y="424.18" font-size="1.6" text-anchor="middle" fill="#703030" font-weight="normal">0.00</text>
<text x="202.00" y="430.72" font-size="3.2" text-anchor="middle" fill="#555" font-weight="normal">-</text>
<text x="150.70" y="374.70" font-size="3.4" text-anchor="start" fill="#333" font-weight="normal" transform="rotate(-90 150.70 374.70)">MMSE</text>
<text x="157.30" y="374.70" font-size="3.4" text-anchor="start" fill="#333" font-weight="normal" transform="rotate(-90 157.30 374.70)">MoCA</text>
<text x="163.90" y="374.70" font-size="3.4" text-anchor="start" fill="#333" font-weight="normal" transform="rotate(-90 163.90 374.70)">NPI-Q</text>
<text x="170.50" y="374.70" font-size="3.4" text-anchor="start" fill="#333" font-weight="normal" transform="rotate(-90 170.50 374.70)">FAQ</text>
<text x="177.10" y="374.70" font-size="3.4" text-anchor="start" fill="#333" font-weight="normal" transform="rotate(-90 177.10 374.70)">CDR-SB</text>
<text x="183.70" y="374.70" font-size="3.4" text-anchor="start" fill="#333" font-weight="normal" transform="rotate(-90 183.70 374.70)">CDR plus NACC FTLD</text>
<text x="190.30" y="374.70" font-size="3.4" text-anchor="start" fill="#333" font-weight="normal" transform="rotate(-90 190.30 374.70)">CBI-M</text>
<text x="196.90" y="374.70" font-size="3.4" text-anchor="start" fill="#333" font-weight="normal" transform="rotate(-90 196.90 374.70)">Plasma NfL</text>
<text x="203.50" y="374.70" font-size="3.4" text-anchor="start" fill="#333" font-weight="normal" transform="rotate(-90 203.50 374.70)">sEV 3R/4R tau ratio</text>
<text x="206.80" y="380.82" font-size="3.4" text-anchor="start" fill="#333" font-weight="normal">MMSE</text>
<text x="206.80" y="387.07" font-size="3.4" text-anchor="start" fill="#333" font-weight="normal">MoCA</text>
<text x="206.80" y="393.32" font-size="3.4" text-anchor="start" fill="#333" font-weight="normal">NPI-Q</text>
<text x="206.80" y="399.57" font-size="3.4" text-anchor="start" fill="#333" font-weight="normal">FAQ</text>
<text x="206.80" y="405.82" font-size="3.4" text-anchor="start" fill="#333" font-weight="normal">CDR-SB</text>
<text x="206.80" y="412.07" font-size="3.4" text-anchor="start" fill="#333" font-weight="normal">CDR plus NACC FTLD</text>
<text x="206.80" y="418.32" font-size="3.4" text-anchor="start" fill="#333" font-weight="normal">CBI-M</text>
<text x="206.80" y="424.57" font-size="3.4" text-anchor="start" fill="#333" font-weight="normal">Plasma NfL</text>
<text x="206.80" y="430.82" font-size="3.4" text-anchor="start" fill="#333" font-weight="normal">sEV 3R/4R tau ratio</text>
<text x="152.50" y="419.60" font-size="8.8" text-anchor="start" fill="#222" font-weight="normal">bvFTD</text>
<rect x="240.5" y="375.30" width="2.7" height="14.00" fill="#f59a9a"/>
<rect x="240.5" y="389.30" width="2.7" height="14.00" fill="#f05a5a"/>
<rect x="240.5" y="403.30" width="2.7" height="14.00" fill="#f20000"/>
<rect x="240.5" y="417.30" width="2.7" height="14.00" fill="#ffffff"/>
<rect x="240.5" y="375.3" width="2.7" height="56.00" fill="none" stroke="#333" stroke-width="0.4"/>
<text x="244.40" y="383.50" font-size="3.9" text-anchor="start" fill="#333" font-weight="normal">&lt;0.0500</text>
<text x="244.40" y="397.50" font-size="3.9" text-anchor="start" fill="#333" font-weight="normal">&lt;0.0001</text>
<text x="244.40" y="411.50" font-size="3.9" text-anchor="start" fill="#333" font-weight="normal">&lt;0.00001</text>
<text x="244.40" y="425.50" font-size="3.9" text-anchor="start" fill="#333" font-weight="normal">&gt;0.0500</text>
<text x="275.20" y="260.50" font-size="12" text-anchor="start" fill="#000" font-weight="bold" stroke="#000" stroke-width="0.45">k</text>
<path d="M305.50,256.40 L305.50,253.60 L389.30,253.60 L389.30,256.40" fill="none" stroke="#6e6e6e" stroke-width="0.75"/>
<path d="M340.50,246.10 L341.14,247.53 L342.69,247.69 L341.53,248.73 L341.85,250.26 L340.50,249.48 L339.15,250.26 L339.47,248.73 L338.31,247.69 L339.86,247.53ZM345.10,246.10 L345.74,247.53 L347.29,247.69 L346.13,248.73 L346.45,250.26 L345.10,249.48 L343.75,250.26 L344.07,248.73 L342.91,247.69 L344.46,247.53ZM349.70,246.10 L350.34,247.53 L351.89,247.69 L350.73,248.73 L351.05,250.26 L349.70,249.48 L348.35,250.26 L348.67,248.73 L347.51,247.69 L349.06,247.53ZM354.30,246.10 L354.94,247.53 L356.49,247.69 L355.33,248.73 L355.65,250.26 L354.30,249.48 L352.95,250.26 L353.27,248.73 L352.11,247.69 L353.66,247.53Z" fill="#1a1a1a"/>
<path d="M306.50,268.40 L306.50,265.40 L363.40,265.40 L363.40,268.40" fill="none" stroke="#6e6e6e" stroke-width="0.75"/>
<path d="M328.10,259.00 L328.74,260.43 L330.29,260.59 L329.13,261.63 L329.45,263.16 L328.10,262.38 L326.75,263.16 L327.07,261.63 L325.91,260.59 L327.46,260.43ZM332.70,259.00 L333.34,260.43 L334.89,260.59 L333.73,261.63 L334.05,263.16 L332.70,262.38 L331.35,263.16 L331.67,261.63 L330.51,260.59 L332.06,260.43ZM337.30,259.00 L337.94,260.43 L339.49,260.59 L338.33,261.63 L338.65,263.16 L337.30,262.38 L335.95,263.16 L336.27,261.63 L335.11,260.59 L336.66,260.43ZM341.90,259.00 L342.54,260.43 L344.09,260.59 L342.93,261.63 L343.25,263.16 L341.90,262.38 L340.55,263.16 L340.87,261.63 L339.71,260.59 L341.26,260.43Z" fill="#1a1a1a"/>
<path d="M306.50,280.40 L306.50,277.40 L334.50,277.40 L334.50,280.40" fill="none" stroke="#6e6e6e" stroke-width="0.75"/>
<text x="320.60" y="276.00" font-size="6.3" text-anchor="middle" fill="#262626" font-weight="normal">NS</text>
<path d="M337.40,284.50 L337.40,281.60 L389.30,281.60 L389.30,284.50" fill="none" stroke="#6e6e6e" stroke-width="0.75"/>
<path d="M355.60,273.80 L356.24,275.23 L357.79,275.39 L356.63,276.43 L356.95,277.96 L355.60,277.18 L354.25,277.96 L354.57,276.43 L353.41,275.39 L354.96,275.23ZM360.20,273.80 L360.84,275.23 L362.39,275.39 L361.23,276.43 L361.55,277.96 L360.20,277.18 L358.85,277.96 L359.17,276.43 L358.01,275.39 L359.56,275.23ZM364.80,273.80 L365.44,275.23 L366.99,275.39 L365.83,276.43 L366.15,277.96 L364.80,277.18 L363.45,277.96 L363.77,276.43 L362.61,275.39 L364.16,275.23ZM369.40,273.80 L370.04,275.23 L371.59,275.39 L370.43,276.43 L370.75,277.96 L369.40,277.18 L368.05,277.96 L368.37,276.43 L367.21,275.39 L368.76,275.23Z" fill="#1a1a1a"/>
<path d="M337.40,302.70 L337.40,296.60 L363.40,296.60 L363.40,302.70" fill="none" stroke="#6e6e6e" stroke-width="0.75"/>
<path d="M343.40,288.50 L344.04,289.93 L345.59,290.09 L344.43,291.13 L344.75,292.66 L343.40,291.88 L342.05,292.66 L342.37,291.13 L341.21,290.09 L342.76,289.93ZM348.00,288.50 L348.64,289.93 L350.19,290.09 L349.03,291.13 L349.35,292.66 L348.00,291.88 L346.65,292.66 L346.97,291.13 L345.81,290.09 L347.36,289.93ZM352.60,288.50 L353.24,289.93 L354.79,290.09 L353.63,291.13 L353.95,292.66 L352.60,291.88 L351.25,292.66 L351.57,291.13 L350.41,290.09 L351.96,289.93ZM357.20,288.50 L357.84,289.93 L359.39,290.09 L358.23,291.13 L358.55,292.66 L357.20,291.88 L355.85,292.66 L356.17,291.13 L355.01,290.09 L356.56,289.93Z" fill="#1a1a1a"/>
<path d="M366.40,302.70 L366.40,295.60 L389.00,295.60 L389.00,334.40" fill="none" stroke="#6e6e6e" stroke-width="0.75"/>
<path d="M371.00,288.50 L371.64,289.93 L373.19,290.09 L372.03,291.13 L372.35,292.66 L371.00,291.88 L369.65,292.66 L369.97,291.13 L368.81,290.09 L370.36,289.93ZM375.60,288.50 L376.24,289.93 L377.79,290.09 L376.63,291.13 L376.95,292.66 L375.60,291.88 L374.25,292.66 L374.57,291.13 L373.41,290.09 L374.96,289.93ZM380.20,288.50 L380.84,289.93 L382.39,290.09 L381.23,291.13 L381.55,292.66 L380.20,291.88 L378.85,292.66 L379.17,291.13 L378.01,290.09 L379.56,289.93ZM384.80,288.50 L385.44,289.93 L386.99,290.09 L385.83,291.13 L386.15,292.66 L384.80,291.88 L383.45,292.66 L383.77,291.13 L382.61,290.09 L384.16,289.93Z" fill="#1a1a1a"/>
<line x1="297.60" y1="304.90" x2="297.60" y2="390.80" stroke="#6b6b6b" stroke-width="0.9"/>
<line x1="297.20" y1="390.40" x2="404.50" y2="390.40" stroke="#6b6b6b" stroke-width="0.9"/>
<line x1="295.20" y1="390.40" x2="297.60" y2="390.40" stroke="#6b6b6b" stroke-width="0.8"/>
<text x="292.90" y="392.30" font-size="7.2" text-anchor="end" fill="#333" font-weight="normal">0</text>
<line x1="295.20" y1="373.30" x2="297.60" y2="373.30" stroke="#6b6b6b" stroke-width="0.8"/>
<text x="292.90" y="375.20" font-size="7.2" text-anchor="end" fill="#333" font-weight="normal">1</text>
<line x1="295.20" y1="356.20" x2="297.60" y2="356.20" stroke="#6b6b6b" stroke-width="0.8"/>
<text x="292.90" y="358.10" font-size="7.2" text-anchor="end" fill="#333" font-weight="normal">2</text>
<line x1="295.20" y1="339.10" x2="297.60" y2="339.10" stroke="#6b6b6b" stroke-width="0.8"/>
<text x="292.90" y="341.00" font-size="7.2" text-anchor="end" fill="#333" font-weight="normal">3</text>
<line x1="295.20" y1="322.00" x2="297.60" y2="322.00" stroke="#6b6b6b" stroke-width="0.8"/>
<text x="292.90" y="323.90" font-size="7.2" text-anchor="end" fill="#333" font-weight="normal">4</text>
<line x1="295.20" y1="304.90" x2="297.60" y2="304.90" stroke="#6b6b6b" stroke-width="0.8"/>
<text x="292.90" y="306.80" font-size="7.2" text-anchor="end" fill="#333" font-weight="normal">5</text>
<text x="281.20" y="350.40" font-size="7.3" text-anchor="middle" fill="#222" font-weight="normal" transform="rotate(-90 281.20 350.40)">Plasma sEV 3R/4R tau ratio</text>
<line x1="314.70" y1="390.40" x2="314.70" y2="392.40" stroke="#6b6b6b" stroke-width="0.8"/>
<text x="318.70" y="399.70" font-size="7.3" text-anchor="end" fill="#222" font-weight="normal" transform="rotate(-45 318.70 399.70)">HC</text>
<line x1="339.30" y1="390.40" x2="339.30" y2="392.40" stroke="#6b6b6b" stroke-width="0.8"/>
<text x="343.30" y="399.70" font-size="7.3" text-anchor="end" fill="#222" font-weight="normal" transform="rotate(-45 343.30 399.70)">ALS</text>
<line x1="363.50" y1="390.40" x2="363.50" y2="392.40" stroke="#6b6b6b" stroke-width="0.8"/>
<text x="367.50" y="399.70" font-size="7.3" text-anchor="end" fill="#222" font-weight="normal" transform="rotate(-45 367.50 399.70)">bvFTD</text>
<line x1="387.80" y1="390.40" x2="387.80" y2="392.40" stroke="#6b6b6b" stroke-width="0.8"/>
<text x="391.80" y="399.70" font-size="7.3" text-anchor="end" fill="#222" font-weight="normal" transform="rotate(-45 391.80 399.70)">PSP</text>
<circle cx="314.70" cy="375.02" r="1.25" fill="none" stroke="#2a2ad8" stroke-width="0.62"/>
<circle cx="315.50" cy="373.15" r="1.25" fill="none" stroke="#2a2ad8" stroke-width="0.62"/>
<circle cx="313.10" cy="373.44" r="1.25" fill="none" stroke="#2a2ad8" stroke-width="0.62"/>
<circle cx="317.50" cy="372.77" r="1.25" fill="none" stroke="#2a2ad8" stroke-width="0.62"/>
<circle cx="316.30" cy="376.26" r="1.25" fill="none" stroke="#2a2ad8" stroke-width="0.62"/>
<circle cx="314.70" cy="371.25" r="1.25" fill="none" stroke="#2a2ad8" stroke-width="0.62"/>
<circle cx="312.70" cy="375.98" r="1.25" fill="none" stroke="#2a2ad8" stroke-width="0.62"/>
<circle cx="311.10" cy="374.27" r="1.25" fill="none" stroke="#2a2ad8" stroke-width="0.62"/>
<circle cx="319.50" cy="373.78" r="1.25" fill="none" stroke="#2a2ad8" stroke-width="0.62"/>
<circle cx="309.10" cy="374.15" r="1.25" fill="none" stroke="#2a2ad8" stroke-width="0.62"/>
<circle cx="321.10" cy="374.10" r="1.25" fill="none" stroke="#2a2ad8" stroke-width="0.62"/>
<circle cx="318.30" cy="375.38" r="1.25" fill="none" stroke="#2a2ad8" stroke-width="0.62"/>
<circle cx="310.30" cy="373.02" r="1.25" fill="none" stroke="#2a2ad8" stroke-width="0.62"/>
<circle cx="316.70" cy="374.66" r="1.25" fill="none" stroke="#2a2ad8" stroke-width="0.62"/>
<circle cx="310.70" cy="376.90" r="1.25" fill="none" stroke="#2a2ad8" stroke-width="0.62"/>
<circle cx="314.70" cy="377.70" r="1.25" fill="none" stroke="#2a2ad8" stroke-width="0.62"/>
<circle cx="308.30" cy="372.23" r="1.25" fill="none" stroke="#2a2ad8" stroke-width="0.62"/>
<circle cx="320.70" cy="372.73" r="1.25" fill="none" stroke="#2a2ad8" stroke-width="0.62"/>
<circle cx="320.30" cy="375.98" r="1.25" fill="none" stroke="#2a2ad8" stroke-width="0.62"/>
<circle cx="312.70" cy="371.38" r="1.25" fill="none" stroke="#2a2ad8" stroke-width="0.62"/>
<circle cx="314.30" cy="373.46" r="1.25" fill="none" stroke="#2a2ad8" stroke-width="0.62"/>
<circle cx="311.90" cy="373.52" r="1.25" fill="none" stroke="#2a2ad8" stroke-width="0.62"/>
<circle cx="319.10" cy="371.52" r="1.25" fill="none" stroke="#2a2ad8" stroke-width="0.62"/>
<circle cx="339.30" cy="366.46" r="1.25" fill="none" stroke="#a438d4" stroke-width="0.55"/>
<circle cx="339.30" cy="363.04" r="1.25" fill="none" stroke="#a438d4" stroke-width="0.55"/>
<circle cx="339.30" cy="380.48" r="1.25" fill="none" stroke="#a438d4" stroke-width="0.55"/>
<circle cx="339.30" cy="383.22" r="1.25" fill="none" stroke="#a438d4" stroke-width="0.55"/>
<circle cx="339.30" cy="385.95" r="1.25" fill="none" stroke="#a438d4" stroke-width="0.55"/>
<circle cx="333.00" cy="371.93" r="1.25" fill="none" stroke="#a438d4" stroke-width="0.55"/>
<circle cx="334.60" cy="371.25" r="1.25" fill="none" stroke="#a438d4" stroke-width="0.55"/>
<circle cx="332.20" cy="373.30" r="1.25" fill="none" stroke="#a438d4" stroke-width="0.55"/>
<circle cx="339.30" cy="372.05" r="1.3" fill="none" stroke="#4a0c10" stroke-width="0.75"/>
<circle cx="340.90" cy="370.31" r="1.3" fill="none" stroke="#4a0c10" stroke-width="0.75"/>
<circle cx="336.90" cy="371.91" r="1.3" fill="none" stroke="#4a0c10" stroke-width="0.75"/>
<circle cx="343.30" cy="370.45" r="1.3" fill="none" stroke="#4a0c10" stroke-width="0.75"/>
<circle cx="341.30" cy="373.31" r="1.3" fill="none" stroke="#4a0c10" stroke-width="0.75"/>
<circle cx="334.50" cy="371.13" r="1.3" fill="none" stroke="#4a0c10" stroke-width="0.75"/>
<circle cx="339.30" cy="374.87" r="1.3" fill="none" stroke="#4a0c10" stroke-width="0.75"/>
<circle cx="335.30" cy="373.74" r="1.3" fill="none" stroke="#4a0c10" stroke-width="0.75"/>
<circle cx="343.70" cy="372.70" r="1.3" fill="none" stroke="#4a0c10" stroke-width="0.75"/>
<circle cx="345.70" cy="373.84" r="1.3" fill="none" stroke="#4a0c10" stroke-width="0.75"/>
<circle cx="341.30" cy="376.21" r="1.3" fill="none" stroke="#4a0c10" stroke-width="0.75"/>
<circle cx="336.90" cy="375.31" r="1.3" fill="none" stroke="#4a0c10" stroke-width="0.75"/>
<circle cx="343.70" cy="376.62" r="1.3" fill="none" stroke="#4a0c10" stroke-width="0.75"/>
<circle cx="334.90" cy="376.73" r="1.3" fill="none" stroke="#4a0c10" stroke-width="0.75"/>
<circle cx="332.50" cy="372.30" r="1.3" fill="none" stroke="#4a0c10" stroke-width="0.75"/>
<circle cx="345.70" cy="371.61" r="1.3" fill="none" stroke="#4a0c10" stroke-width="0.75"/>
<circle cx="333.30" cy="374.11" r="1.3" fill="none" stroke="#4a0c10" stroke-width="0.75"/>
<circle cx="342.90" cy="374.20" r="1.3" fill="none" stroke="#4a0c10" stroke-width="0.75"/>
<circle cx="342.10" cy="371.22" r="1.3" fill="none" stroke="#4a0c10" stroke-width="0.75"/>
<circle cx="337.70" cy="374.01" r="1.3" fill="none" stroke="#4a0c10" stroke-width="0.75"/>
<circle cx="338.10" cy="370.34" r="1.3" fill="none" stroke="#4a0c10" stroke-width="0.75"/>
<circle cx="346.10" cy="376.74" r="1.3" fill="none" stroke="#4a0c10" stroke-width="0.75"/>
<circle cx="344.50" cy="374.11" r="1.3" fill="none" stroke="#4a0c10" stroke-width="0.75"/>
<circle cx="334.50" cy="375.19" r="1.3" fill="none" stroke="#4a0c10" stroke-width="0.75"/>
<circle cx="332.50" cy="375.58" r="1.3" fill="none" stroke="#4a0c10" stroke-width="0.75"/>
<circle cx="344.90" cy="375.71" r="1.3" fill="none" stroke="#4a0c10" stroke-width="0.75"/>
<circle cx="338.50" cy="376.27" r="1.3" fill="none" stroke="#4a0c10" stroke-width="0.75"/>
<circle cx="334.50" cy="373.30" r="0.75" fill="#2ec02e"/>
<circle cx="338.50" cy="372.44" r="0.75" fill="#2ec02e"/>
<circle cx="342.50" cy="372.96" r="0.75" fill="#2ec02e"/>
<circle cx="345.60" cy="373.98" r="0.75" fill="#2ec02e"/>
<circle cx="336.00" cy="374.50" r="0.75" fill="#2ec02e"/>
<circle cx="340.50" cy="375.01" r="0.75" fill="#2ec02e"/>
<path d="M339.85,378.06 L342.15,378.06 L341.00,380.14Z" fill="#ff0000" stroke="#ff0000" stroke-width="0.3"/>
<circle cx="363.60" cy="374.53" r="1.25" fill="none" stroke="#4a0c10" stroke-width="0.65"/>
<circle cx="366.00" cy="375.54" r="1.25" fill="none" stroke="#4a0c10" stroke-width="0.65"/>
<circle cx="362.00" cy="376.22" r="1.25" fill="none" stroke="#4a0c10" stroke-width="0.65"/>
<circle cx="364.00" cy="377.62" r="1.25" fill="none" stroke="#4a0c10" stroke-width="0.65"/>
<circle cx="366.40" cy="378.03" r="1.25" fill="none" stroke="#4a0c10" stroke-width="0.65"/>
<circle cx="363.60" cy="369.66" r="1.25" fill="none" stroke="#4a0c10" stroke-width="0.65"/>
<circle cx="359.60" cy="376.47" r="1.25" fill="none" stroke="#4a0c10" stroke-width="0.65"/>
<circle cx="366.00" cy="368.84" r="1.25" fill="none" stroke="#34a034" stroke-width="0.65"/>
<circle cx="361.20" cy="373.65" r="1.25" fill="none" stroke="#4a0c10" stroke-width="0.65"/>
<circle cx="368.40" cy="375.62" r="1.25" fill="none" stroke="#4a0c10" stroke-width="0.65"/>
<circle cx="358.80" cy="373.63" r="1.25" fill="none" stroke="#34a034" stroke-width="0.65"/>
<circle cx="370.80" cy="374.70" r="1.25" fill="none" stroke="#34a034" stroke-width="0.65"/>
<circle cx="361.20" cy="369.07" r="1.25" fill="none" stroke="#34a034" stroke-width="0.65"/>
<circle cx="363.60" cy="372.00" r="1.25" fill="none" stroke="#34a034" stroke-width="0.65"/>
<circle cx="366.00" cy="372.42" r="1.25" fill="none" stroke="#4a0c10" stroke-width="0.65"/>
<circle cx="356.40" cy="374.30" r="1.25" fill="none" stroke="#4a0c10" stroke-width="0.65"/>
<circle cx="368.40" cy="371.71" r="1.25" fill="none" stroke="#4a0c10" stroke-width="0.65"/>
<circle cx="358.80" cy="370.08" r="1.25" fill="none" stroke="#34a034" stroke-width="0.65"/>
<circle cx="367.20" cy="373.93" r="1.25" fill="none" stroke="#4a0c10" stroke-width="0.65"/>
<circle cx="360.00" cy="374.67" r="1.25" fill="none" stroke="#34a034" stroke-width="0.65"/>
<circle cx="370.80" cy="372.29" r="1.25" fill="none" stroke="#4a0c10" stroke-width="0.65"/>
<circle cx="356.80" cy="371.32" r="1.25" fill="none" stroke="#4a0c10" stroke-width="0.65"/>
<circle cx="369.60" cy="369.60" r="1.25" fill="none" stroke="#4a0c10" stroke-width="0.65"/>
<circle cx="357.20" cy="376.92" r="1.25" fill="none" stroke="#4a0c10" stroke-width="0.65"/>
<circle cx="358.00" cy="375.08" r="1.25" fill="none" stroke="#4a0c10" stroke-width="0.65"/>
<circle cx="360.80" cy="371.44" r="1.25" fill="none" stroke="#4a0c10" stroke-width="0.65"/>
<circle cx="364.00" cy="380.14" r="1.2" fill="none" stroke="#34a034" stroke-width="0.55"/>
<circle cx="363.40" cy="381.51" r="1.2" fill="none" stroke="#34a034" stroke-width="0.55"/>
<circle cx="363.60" cy="378.77" r="1.2" fill="none" stroke="#34a034" stroke-width="0.55"/>
<circle cx="363.63" cy="367.31" r="1.05" fill="none" stroke="#34a034" stroke-width="0.5"/>
<circle cx="363.91" cy="365.60" r="1.05" fill="none" stroke="#34a034" stroke-width="0.5"/>
<circle cx="363.32" cy="363.89" r="1.05" fill="none" stroke="#34a034" stroke-width="0.5"/>
<circle cx="363.67" cy="362.18" r="1.05" fill="none" stroke="#34a034" stroke-width="0.5"/>
<circle cx="363.61" cy="360.47" r="1.05" fill="none" stroke="#34a034" stroke-width="0.5"/>
<circle cx="363.76" cy="358.76" r="1.05" fill="none" stroke="#34a034" stroke-width="0.5"/>
<circle cx="363.93" cy="357.05" r="1.05" fill="none" stroke="#34a034" stroke-width="0.5"/>
<circle cx="363.47" cy="355.34" r="1.05" fill="none" stroke="#34a034" stroke-width="0.5"/>
<circle cx="363.74" cy="353.63" r="1.05" fill="none" stroke="#34a034" stroke-width="0.5"/>
<circle cx="363.62" cy="351.92" r="1.05" fill="none" stroke="#34a034" stroke-width="0.5"/>
<circle cx="363.64" cy="350.21" r="1.05" fill="none" stroke="#34a034" stroke-width="0.5"/>
<circle cx="363.29" cy="348.50" r="1.05" fill="none" stroke="#34a034" stroke-width="0.5"/>
<circle cx="363.82" cy="346.79" r="1.05" fill="none" stroke="#34a034" stroke-width="0.5"/>
<circle cx="363.93" cy="345.08" r="1.05" fill="none" stroke="#34a034" stroke-width="0.5"/>
<circle cx="363.50" cy="343.38" r="1.05" fill="none" stroke="#34a034" stroke-width="0.5"/>
<circle cx="363.47" cy="341.66" r="1.05" fill="none" stroke="#34a034" stroke-width="0.5"/>
<circle cx="363.95" cy="339.95" r="1.05" fill="none" stroke="#34a034" stroke-width="0.5"/>
<circle cx="363.33" cy="338.24" r="1.05" fill="none" stroke="#34a034" stroke-width="0.5"/>
<circle cx="363.30" cy="336.53" r="1.05" fill="none" stroke="#34a034" stroke-width="0.5"/>
<circle cx="363.30" cy="334.82" r="1.05" fill="none" stroke="#34a034" stroke-width="0.5"/>
<circle cx="363.82" cy="333.11" r="1.05" fill="none" stroke="#34a034" stroke-width="0.5"/>
<circle cx="363.78" cy="331.40" r="1.05" fill="none" stroke="#34a034" stroke-width="0.5"/>
<circle cx="363.56" cy="329.69" r="1.05" fill="none" stroke="#34a034" stroke-width="0.5"/>
<circle cx="363.68" cy="327.98" r="1.05" fill="none" stroke="#34a034" stroke-width="0.5"/>
<circle cx="363.26" cy="326.27" r="1.05" fill="none" stroke="#34a034" stroke-width="0.5"/>
<circle cx="363.70" cy="324.56" r="1.05" fill="none" stroke="#34a034" stroke-width="0.5"/>
<circle cx="363.56" cy="322.85" r="1.05" fill="none" stroke="#34a034" stroke-width="0.5"/>
<circle cx="363.61" cy="321.14" r="1.05" fill="none" stroke="#34a034" stroke-width="0.5"/>
<circle cx="363.52" cy="319.43" r="1.05" fill="none" stroke="#34a034" stroke-width="0.5"/>
<circle cx="363.53" cy="317.72" r="1.05" fill="none" stroke="#34a034" stroke-width="0.5"/>
<circle cx="362.11" cy="357.91" r="1.05" fill="none" stroke="#34a034" stroke-width="0.5"/>
<circle cx="364.58" cy="351.07" r="1.05" fill="none" stroke="#34a034" stroke-width="0.5"/>
<circle cx="362.25" cy="340.81" r="1.05" fill="none" stroke="#34a034" stroke-width="0.5"/>
<circle cx="364.72" cy="363.04" r="1.05" fill="none" stroke="#34a034" stroke-width="0.5"/>
<path d="M362.85,326.66 L364.85,326.66 L363.85,324.86Z" fill="#ff0000" stroke="#ff0000" stroke-width="0.3"/>
<path d="M362.98,324.61 L364.98,324.61 L363.98,322.81Z" fill="#ff0000" stroke="#ff0000" stroke-width="0.3"/>
<path d="M362.87,322.56 L364.87,322.56 L363.87,320.76Z" fill="#ff0000" stroke="#ff0000" stroke-width="0.3"/>
<path d="M362.55,320.85 L364.55,320.85 L363.55,319.05Z" fill="#ff0000" stroke="#ff0000" stroke-width="0.3"/>
<path d="M386.85,387.73 L389.35,387.73 L388.10,385.48Z" fill="none" stroke="#d4d42a" stroke-width="0.5"/>
<path d="M386.85,385.63 L389.35,385.63 L388.10,383.38Z" fill="none" stroke="#d4d42a" stroke-width="0.5"/>
<path d="M386.85,381.93 L389.35,381.93 L388.10,379.68Z" fill="none" stroke="#d4d42a" stroke-width="0.5"/>
<path d="M388.85,388.09 L391.35,388.09 L390.10,385.84Z" fill="none" stroke="#d4d42a" stroke-width="0.5"/>
<path d="M387.65,389.47 L390.15,389.47 L388.90,387.22Z" fill="none" stroke="#d4d42a" stroke-width="0.5"/>
<path d="M388.85,381.31 L391.35,381.31 L390.10,379.06Z" fill="none" stroke="#d4d42a" stroke-width="0.5"/>
<path d="M384.85,381.20 L387.35,381.20 L386.10,378.95Z" fill="none" stroke="#d4d42a" stroke-width="0.5"/>
<path d="M387.65,383.63 L390.15,383.63 L388.90,381.38Z" fill="none" stroke="#d4d42a" stroke-width="0.5"/>
<path d="M384.05,382.91 L386.55,382.91 L385.30,380.66Z" fill="none" stroke="#d4d42a" stroke-width="0.5"/>
<path d="M385.25,388.84 L387.75,388.84 L386.50,386.59Z" fill="none" stroke="#d4d42a" stroke-width="0.5"/>
<path d="M390.05,382.85 L392.55,382.85 L391.30,380.60Z" fill="none" stroke="#d4d42a" stroke-width="0.5"/>
<path d="M382.45,381.75 L384.95,381.75 L383.70,379.50Z" fill="none" stroke="#d4d42a" stroke-width="0.5"/>
<path d="M386.85,374.92 L389.35,374.92 L388.10,372.67Z" fill="none" stroke="#d4d42a" stroke-width="0.5"/>
<path d="M384.45,387.10 L386.95,387.10 L385.70,384.85Z" fill="none" stroke="#d4d42a" stroke-width="0.5"/>
<path d="M385.25,384.61 L387.75,384.61 L386.50,382.36Z" fill="none" stroke="#d4d42a" stroke-width="0.5"/>
<path d="M392.05,382.79 L394.55,382.79 L393.30,380.54Z" fill="none" stroke="#d4d42a" stroke-width="0.5"/>
<path d="M382.05,383.65 L384.55,383.65 L383.30,381.40Z" fill="none" stroke="#d4d42a" stroke-width="0.5"/>
<path d="M380.45,382.56 L382.95,382.56 L381.70,380.31Z" fill="none" stroke="#d4d42a" stroke-width="0.5"/>
<path d="M390.45,380.47 L392.95,380.47 L391.70,378.22Z" fill="none" stroke="#d4d42a" stroke-width="0.5"/>
<path d="M386.85,379.87 L389.35,379.87 L388.10,377.62Z" fill="none" stroke="#d4d42a" stroke-width="0.5"/>
<path d="M394.05,383.61 L396.55,383.61 L395.30,381.36Z" fill="none" stroke="#d4d42a" stroke-width="0.5"/>
<path d="M394.85,382.16 L397.35,382.16 L396.10,379.91Z" fill="none" stroke="#d4d42a" stroke-width="0.5"/>
<path d="M383.25,388.76 L385.75,388.76 L384.50,386.51Z" fill="none" stroke="#d4d42a" stroke-width="0.5"/>
<path d="M378.85,382.47 L381.35,382.47 L380.10,380.22Z" fill="none" stroke="#d4d42a" stroke-width="0.5"/>
<path d="M386.85,378.06 L389.35,378.06 L388.10,375.81Z" fill="none" stroke="#d4d42a" stroke-width="0.5"/>
<path d="M393.25,382.04 L395.75,382.04 L394.50,379.79Z" fill="none" stroke="#d4d42a" stroke-width="0.5"/>
<path d="M388.85,385.57 L391.35,385.57 L390.10,383.32Z" fill="none" stroke="#d4d42a" stroke-width="0.5"/>
<path d="M389.65,389.73 L392.15,389.73 L390.90,387.48Z" fill="none" stroke="#d4d42a" stroke-width="0.5"/>
<path d="M384.05,379.53 L386.55,379.53 L385.30,377.28Z" fill="none" stroke="#d4d42a" stroke-width="0.5"/>
<path d="M388.45,377.04 L390.95,377.04 L389.70,374.79Z" fill="none" stroke="#d4d42a" stroke-width="0.5"/>
<path d="M383.25,385.20 L385.75,385.20 L384.50,382.95Z" fill="none" stroke="#d4d42a" stroke-width="0.5"/>
<path d="M390.85,387.30 L393.35,387.30 L392.10,385.05Z" fill="none" stroke="#d4d42a" stroke-width="0.5"/>
<path d="M385.65,383.07 L388.15,383.07 L386.90,380.82Z" fill="none" stroke="#d4d42a" stroke-width="0.5"/>
<path d="M388.85,383.06 L391.35,383.06 L390.10,380.81Z" fill="none" stroke="#d4d42a" stroke-width="0.5"/>
<path d="M382.05,387.31 L384.55,387.31 L383.30,385.06Z" fill="none" stroke="#d4d42a" stroke-width="0.5"/>
<path d="M392.45,385.99 L394.95,385.99 L393.70,383.74Z" fill="none" stroke="#d4d42a" stroke-width="0.5"/>
<path d="M390.05,378.01 L392.55,378.01 L391.30,375.76Z" fill="none" stroke="#d4d42a" stroke-width="0.5"/>
<path d="M385.25,376.85 L387.75,376.85 L386.50,374.60Z" fill="none" stroke="#d4d42a" stroke-width="0.5"/>
<path d="M379.65,384.02 L382.15,384.02 L380.90,381.77Z" fill="none" stroke="#d4d42a" stroke-width="0.5"/>
<path d="M388.45,378.96 L390.95,378.96 L389.70,376.71Z" fill="none" stroke="#d4d42a" stroke-width="0.5"/>
<path d="M391.25,384.02 L393.75,384.02 L392.50,381.77Z" fill="none" stroke="#d4d42a" stroke-width="0.5"/>
<path d="M382.05,378.81 L384.55,378.81 L383.30,376.56Z" fill="none" stroke="#d4d42a" stroke-width="0.5"/>
<path d="M380.05,386.53 L382.55,386.53 L381.30,384.28Z" fill="none" stroke="#d4d42a" stroke-width="0.5"/>
<path d="M382.85,382.72 L385.35,382.72 L384.10,380.47Z" fill="none" stroke="#d4d42a" stroke-width="0.5"/>
<path d="M392.85,384.58 L395.35,384.58 L394.10,382.33Z" fill="none" stroke="#d4d42a" stroke-width="0.5"/>
<path d="M386.20,383.86 L388.20,383.86 L387.20,385.66Z" fill="#ff0000" stroke="#ff0000" stroke-width="0.3"/>
<path d="M387.60,384.37 L389.60,384.37 L388.60,386.17Z" fill="#ff0000" stroke="#ff0000" stroke-width="0.3"/>
<path d="M387.00,385.23 L389.00,385.23 L388.00,387.02Z" fill="#ff0000" stroke="#ff0000" stroke-width="0.3"/>
<path d="M388.20,383.34 L390.20,383.34 L389.20,385.14Z" fill="#ff0000" stroke="#ff0000" stroke-width="0.3"/>
<line x1="304.90" y1="373.47" x2="325.00" y2="373.47" stroke="#777" stroke-width="0.8"/>
<line x1="329.50" y1="373.98" x2="349.00" y2="373.98" stroke="#aaa" stroke-width="0.8"/>
<line x1="354.00" y1="371.76" x2="373.00" y2="371.76" stroke="#444" stroke-width="0.8"/>
<line x1="359.50" y1="360.30" x2="367.50" y2="360.30" stroke="#333" stroke-width="0.7"/>
<line x1="363.60" y1="360.30" x2="363.60" y2="371.76" stroke="#333" stroke-width="0.6"/>
<line x1="377.80" y1="382.70" x2="397.70" y2="382.70" stroke="#999" stroke-width="0.8"/>
<line x1="383.00" y1="380.14" x2="393.00" y2="380.14" stroke="#555" stroke-width="0.5"/>
<circle cx="406.8" cy="312.80" r="1.25" fill="#4a0f12"/>
<text x="410.60" y="314.90" font-size="6.0" text-anchor="start" fill="#222" font-weight="normal">TDP-43</text>
<circle cx="406.8" cy="319.20" r="0.85" fill="#ff1a1a"/>
<text x="410.60" y="321.30" font-size="6.0" text-anchor="start" fill="#222" font-weight="normal">Tau (PSP/GGT) type</text>
<circle cx="406.8" cy="326.00" r="0.85" fill="#ff1a1a"/>
<text x="410.60" y="328.10" font-size="6.0" text-anchor="start" fill="#222" font-weight="normal"><tspan font-style="italic">MAPT</tspan> mutations</text>
<circle cx="406.8" cy="332.50" r="0.85" fill="#22cc22"/>
<text x="410.60" y="334.60" font-size="6.0" text-anchor="start" fill="#222" font-weight="normal">Non-tau/non-TDP-43</text>
<path d="M493.2,251.5 L493.2,258.2 Q493.2,259.5 494.5,259.5 L495.4,259.5" fill="none" stroke="#000" stroke-width="2.3"/>
<path d="M525.60,285.40 L525.60,281.50 L582.00,281.50 L582.00,285.40" fill="none" stroke="#6e6e6e" stroke-width="0.75"/>
<path d="M547.40,274.50 L548.04,275.93 L549.59,276.09 L548.43,277.13 L548.75,278.66 L547.40,277.88 L546.05,278.66 L546.37,277.13 L545.21,276.09 L546.76,275.93ZM552.00,274.50 L552.64,275.93 L554.19,276.09 L553.03,277.13 L553.35,278.66 L552.00,277.88 L550.65,278.66 L550.97,277.13 L549.81,276.09 L551.36,275.93ZM556.60,274.50 L557.24,275.93 L558.79,276.09 L557.63,277.13 L557.95,278.66 L556.60,277.88 L555.25,278.66 L555.57,277.13 L554.41,276.09 L555.96,275.93ZM561.20,274.50 L561.84,275.93 L563.39,276.09 L562.23,277.13 L562.55,278.66 L561.20,277.88 L559.85,278.66 L560.17,277.13 L559.01,276.09 L560.56,275.93Z" fill="#1a1a1a"/>
<path d="M561.70,299.40 L561.70,295.40 L610.70,295.40 L610.70,299.40" fill="none" stroke="#6e6e6e" stroke-width="0.75"/>
<path d="M579.80,288.00 L580.44,289.43 L581.99,289.59 L580.83,290.63 L581.15,292.16 L579.80,291.38 L578.45,292.16 L578.77,290.63 L577.61,289.59 L579.16,289.43ZM584.40,288.00 L585.04,289.43 L586.59,289.59 L585.43,290.63 L585.75,292.16 L584.40,291.38 L583.05,292.16 L583.37,290.63 L582.21,289.59 L583.76,289.43ZM589.00,288.00 L589.64,289.43 L591.19,289.59 L590.03,290.63 L590.35,292.16 L589.00,291.38 L587.65,292.16 L587.97,290.63 L586.81,289.59 L588.36,289.43ZM593.60,288.00 L594.24,289.43 L595.79,289.59 L594.63,290.63 L594.95,292.16 L593.60,291.38 L592.25,292.16 L592.57,290.63 L591.41,289.59 L592.96,289.43Z" fill="#1a1a1a"/>
<path d="M527.20,311.80 L527.20,307.30 L559.00,307.30 L559.00,311.80" fill="none" stroke="#6e6e6e" stroke-width="0.75"/>
<path d="M535.10,301.50 L535.74,302.93 L537.29,303.09 L536.13,304.13 L536.45,305.66 L535.10,304.88 L533.75,305.66 L534.07,304.13 L532.91,303.09 L534.46,302.93ZM539.70,301.50 L540.34,302.93 L541.89,303.09 L540.73,304.13 L541.05,305.66 L539.70,304.88 L538.35,305.66 L538.67,304.13 L537.51,303.09 L539.06,302.93ZM544.30,301.50 L544.94,302.93 L546.49,303.09 L545.33,304.13 L545.65,305.66 L544.30,304.88 L542.95,305.66 L543.27,304.13 L542.11,303.09 L543.66,302.93ZM548.90,301.50 L549.54,302.93 L551.09,303.09 L549.93,304.13 L550.25,305.66 L548.90,304.88 L547.55,305.66 L547.87,304.13 L546.71,303.09 L548.26,302.93Z" fill="#1a1a1a"/>
<path d="M561.30,311.80 L561.30,307.30 L582.30,307.30 L582.30,311.80" fill="none" stroke="#6e6e6e" stroke-width="0.75"/>
<path d="M565.30,300.90 L565.94,302.33 L567.49,302.49 L566.33,303.53 L566.65,305.06 L565.30,304.28 L563.95,305.06 L564.27,303.53 L563.11,302.49 L564.66,302.33ZM569.90,300.90 L570.54,302.33 L572.09,302.49 L570.93,303.53 L571.25,305.06 L569.90,304.28 L568.55,305.06 L568.87,303.53 L567.71,302.49 L569.26,302.33ZM574.50,300.90 L575.14,302.33 L576.69,302.49 L575.53,303.53 L575.85,305.06 L574.50,304.28 L573.15,305.06 L573.47,303.53 L572.31,302.49 L573.86,302.33ZM579.10,300.90 L579.74,302.33 L581.29,302.49 L580.13,303.53 L580.45,305.06 L579.10,304.28 L577.75,305.06 L578.07,303.53 L576.91,302.49 L578.46,302.33Z" fill="#1a1a1a"/>
<path d="M584.10,311.80 L584.10,307.30 L610.70,307.30 L610.70,311.80" fill="none" stroke="#6e6e6e" stroke-width="0.75"/>
<path d="M590.70,300.90 L591.34,302.33 L592.89,302.49 L591.73,303.53 L592.05,305.06 L590.70,304.28 L589.35,305.06 L589.67,303.53 L588.51,302.49 L590.06,302.33ZM595.30,300.90 L595.94,302.33 L597.49,302.49 L596.33,303.53 L596.65,305.06 L595.30,304.28 L593.95,305.06 L594.27,303.53 L593.11,302.49 L594.66,302.33ZM599.90,300.90 L600.54,302.33 L602.09,302.49 L600.93,303.53 L601.25,305.06 L599.90,304.28 L598.55,305.06 L598.87,303.53 L597.71,302.49 L599.26,302.33ZM604.50,300.90 L605.14,302.33 L606.69,302.49 L605.53,303.53 L605.85,305.06 L604.50,304.28 L603.15,305.06 L603.47,303.53 L602.31,302.49 L603.86,302.33Z" fill="#1a1a1a"/>
<line x1="514.90" y1="301.95" x2="514.90" y2="388.10" stroke="#6b6b6b" stroke-width="0.9"/>
<line x1="514.50" y1="387.90" x2="620.00" y2="387.90" stroke="#a8a8a8" stroke-width="1.1"/>
<line x1="512.50" y1="387.70" x2="514.90" y2="387.70" stroke="#6b6b6b" stroke-width="0.8"/>
<text x="508.90" y="389.60" font-size="7.2" text-anchor="end" fill="#333" font-weight="normal">0</text>
<line x1="512.50" y1="370.55" x2="514.90" y2="370.55" stroke="#6b6b6b" stroke-width="0.8"/>
<text x="508.90" y="372.45" font-size="7.2" text-anchor="end" fill="#333" font-weight="normal">1</text>
<line x1="512.50" y1="353.40" x2="514.90" y2="353.40" stroke="#6b6b6b" stroke-width="0.8"/>
<text x="508.90" y="355.30" font-size="7.2" text-anchor="end" fill="#333" font-weight="normal">2</text>
<line x1="512.50" y1="336.25" x2="514.90" y2="336.25" stroke="#6b6b6b" stroke-width="0.8"/>
<text x="508.90" y="338.15" font-size="7.2" text-anchor="end" fill="#333" font-weight="normal">3</text>
<line x1="512.50" y1="319.10" x2="514.90" y2="319.10" stroke="#6b6b6b" stroke-width="0.8"/>
<text x="508.90" y="321.00" font-size="7.2" text-anchor="end" fill="#333" font-weight="normal">4</text>
<line x1="512.50" y1="301.95" x2="514.90" y2="301.95" stroke="#6b6b6b" stroke-width="0.8"/>
<text x="508.90" y="303.85" font-size="7.2" text-anchor="end" fill="#333" font-weight="normal">5</text>
<text x="496.00" y="345.50" font-size="7.2" text-anchor="middle" fill="#222" font-weight="normal" transform="rotate(-90 496.00 345.50)">Plasma sEV 3R/4R tau ratio</text>
<line x1="527.10" y1="387.70" x2="527.10" y2="390.50" stroke="#6b6b6b" stroke-width="0.8"/>
<text x="530.20" y="396.50" font-size="7.4" text-anchor="end" fill="#222" font-weight="normal" transform="rotate(-45 530.20 396.50)">HC</text>
<line x1="547.10" y1="387.70" x2="547.10" y2="390.50" stroke="#6b6b6b" stroke-width="0.8"/>
<text x="550.20" y="396.50" font-size="7.4" text-anchor="end" fill="#222" font-weight="normal" transform="rotate(-45 550.20 396.50)">TDP-43</text>
<line x1="567.10" y1="387.70" x2="567.10" y2="390.50" stroke="#6b6b6b" stroke-width="0.8"/>
<text x="570.20" y="396.50" font-size="7.4" text-anchor="end" fill="#222" font-weight="normal" transform="rotate(-45 570.20 396.50)">Tau (PSP/GGT) type</text>
<line x1="587.10" y1="387.70" x2="587.10" y2="390.50" stroke="#6b6b6b" stroke-width="0.8"/>
<text x="590.20" y="396.50" font-size="7.4" text-anchor="end" fill="#222" font-weight="normal" transform="rotate(-45 590.20 396.50)"><tspan font-style="italic">MAPT</tspan> mutations</text>
<line x1="606.60" y1="387.70" x2="606.60" y2="390.50" stroke="#6b6b6b" stroke-width="0.8"/>
<text x="609.70" y="396.50" font-size="7.4" text-anchor="end" fill="#222" font-weight="normal" transform="rotate(-45 609.70 396.50)">Non-tau/non-TDP-43</text>
<line x1="520.00" y1="371.24" x2="536.00" y2="371.24" stroke="#aaa" stroke-width="0.7"/>
<line x1="539.30" y1="371.32" x2="556.10" y2="371.32" stroke="#999" stroke-width="0.7"/>
<circle cx="527.90" cy="373.27" r="1.0" fill="none" stroke="#2c2cd6" stroke-width="0.6"/>
<circle cx="529.50" cy="372.23" r="1.0" fill="none" stroke="#2c2cd6" stroke-width="0.6"/>
<circle cx="526.30" cy="371.84" r="1.0" fill="none" stroke="#2c2cd6" stroke-width="0.6"/>
<circle cx="531.50" cy="371.84" r="1.0" fill="none" stroke="#2c2cd6" stroke-width="0.6"/>
<circle cx="524.30" cy="371.92" r="1.0" fill="none" stroke="#2c2cd6" stroke-width="0.6"/>
<circle cx="527.90" cy="368.53" r="1.0" fill="none" stroke="#2c2cd6" stroke-width="0.6"/>
<circle cx="533.50" cy="371.92" r="1.0" fill="none" stroke="#2c2cd6" stroke-width="0.6"/>
<circle cx="529.10" cy="370.22" r="1.0" fill="none" stroke="#2c2cd6" stroke-width="0.6"/>
<circle cx="522.30" cy="371.05" r="1.0" fill="none" stroke="#2c2cd6" stroke-width="0.6"/>
<circle cx="526.30" cy="369.93" r="1.0" fill="none" stroke="#2c2cd6" stroke-width="0.6"/>
<circle cx="527.90" cy="371.55" r="1.0" fill="none" stroke="#2c2cd6" stroke-width="0.6"/>
<circle cx="530.70" cy="369.16" r="1.0" fill="none" stroke="#2c2cd6" stroke-width="0.6"/>
<circle cx="527.90" cy="375.69" r="1.0" fill="none" stroke="#2c2cd6" stroke-width="0.6"/>
<circle cx="522.70" cy="372.27" r="1.0" fill="none" stroke="#2c2cd6" stroke-width="0.6"/>
<circle cx="524.70" cy="368.90" r="1.0" fill="none" stroke="#2c2cd6" stroke-width="0.6"/>
<circle cx="532.30" cy="373.06" r="1.0" fill="none" stroke="#2c2cd6" stroke-width="0.6"/>
<circle cx="532.70" cy="369.98" r="1.0" fill="none" stroke="#2c2cd6" stroke-width="0.6"/>
<circle cx="525.90" cy="373.82" r="1.0" fill="none" stroke="#2c2cd6" stroke-width="0.6"/>
<circle cx="530.30" cy="371.81" r="1.0" fill="none" stroke="#2c2cd6" stroke-width="0.6"/>
<circle cx="523.50" cy="370.15" r="1.0" fill="none" stroke="#2c2cd6" stroke-width="0.6"/>
<circle cx="530.70" cy="373.21" r="1.0" fill="none" stroke="#2c2cd6" stroke-width="0.6"/>
<circle cx="547.90" cy="373.09" r="1.1" fill="none" stroke="#5c080c" stroke-width="0.8"/>
<circle cx="549.10" cy="371.46" r="1.1" fill="none" stroke="#5c080c" stroke-width="0.8"/>
<circle cx="549.90" cy="373.63" r="1.1" fill="none" stroke="#5c080c" stroke-width="0.8"/>
<circle cx="546.30" cy="371.69" r="1.1" fill="none" stroke="#5c080c" stroke-width="0.8"/>
<circle cx="547.90" cy="369.80" r="1.1" fill="none" stroke="#5c080c" stroke-width="0.8"/>
<circle cx="545.50" cy="373.47" r="1.1" fill="none" stroke="#5c080c" stroke-width="0.8"/>
<circle cx="549.90" cy="369.32" r="1.1" fill="none" stroke="#5c080c" stroke-width="0.8"/>
<circle cx="547.10" cy="367.99" r="1.1" fill="none" stroke="#5c080c" stroke-width="0.8"/>
<circle cx="551.10" cy="370.89" r="1.1" fill="none" stroke="#5c080c" stroke-width="0.8"/>
<circle cx="545.50" cy="369.27" r="1.1" fill="none" stroke="#5c080c" stroke-width="0.8"/>
<circle cx="543.90" cy="370.41" r="1.1" fill="none" stroke="#5c080c" stroke-width="0.8"/>
<circle cx="552.70" cy="372.12" r="1.1" fill="none" stroke="#5c080c" stroke-width="0.8"/>
<circle cx="543.10" cy="372.22" r="1.1" fill="none" stroke="#5c080c" stroke-width="0.8"/>
<circle cx="544.70" cy="371.80" r="1.1" fill="none" stroke="#5c080c" stroke-width="0.8"/>
<circle cx="550.70" cy="372.29" r="1.1" fill="none" stroke="#5c080c" stroke-width="0.8"/>
<circle cx="541.90" cy="371.68" r="1.1" fill="none" stroke="#5c080c" stroke-width="0.8"/>
<circle cx="551.90" cy="374.51" r="1.1" fill="none" stroke="#5c080c" stroke-width="0.8"/>
<circle cx="543.50" cy="374.34" r="1.1" fill="none" stroke="#5c080c" stroke-width="0.8"/>
<circle cx="551.90" cy="368.70" r="1.1" fill="none" stroke="#5c080c" stroke-width="0.8"/>
<circle cx="542.30" cy="369.20" r="1.1" fill="none" stroke="#5c080c" stroke-width="0.8"/>
<circle cx="553.90" cy="374.50" r="1.1" fill="none" stroke="#5c080c" stroke-width="0.8"/>
<circle cx="553.90" cy="368.94" r="1.1" fill="none" stroke="#5c080c" stroke-width="0.8"/>
<circle cx="543.90" cy="368.40" r="1.1" fill="none" stroke="#5c080c" stroke-width="0.8"/>
<circle cx="553.50" cy="370.60" r="1.1" fill="none" stroke="#5c080c" stroke-width="0.8"/>
<circle cx="553.90" cy="372.79" r="1.1" fill="none" stroke="#5c080c" stroke-width="0.8"/>
<circle cx="545.50" cy="370.53" r="1.1" fill="none" stroke="#5c080c" stroke-width="0.8"/>
<circle cx="552.30" cy="369.97" r="1.1" fill="none" stroke="#5c080c" stroke-width="0.8"/>
<circle cx="548.70" cy="368.09" r="1.1" fill="none" stroke="#5c080c" stroke-width="0.8"/>
<circle cx="542.30" cy="370.51" r="1.1" fill="none" stroke="#5c080c" stroke-width="0.8"/>
<path d="M565.60,375.48 L567.60,375.48 L566.60,377.28Z" fill="#ff1a1a" stroke="#ff1a1a" stroke-width="0.3"/>
<path d="M561.90,379.94 L563.90,379.94 L562.90,381.74Z" fill="#ff1a1a" stroke="#ff1a1a" stroke-width="0.3"/>
<path d="M566.70,382.00 L568.70,382.00 L567.70,383.80Z" fill="#ff1a1a" stroke="#ff1a1a" stroke-width="0.3"/>
<path d="M570.40,382.00 L572.40,382.00 L571.40,383.80Z" fill="#ff1a1a" stroke="#ff1a1a" stroke-width="0.3"/>
<line x1="560.00" y1="382.38" x2="575.70" y2="382.38" stroke="#555" stroke-width="0.6"/>
<line x1="567.10" y1="382.38" x2="567.10" y2="376.38" stroke="#777" stroke-width="0.4"/>
<path d="M581.80,320.86 L583.80,320.86 L582.80,319.06Z" fill="#ff1a1a" stroke="#ff1a1a" stroke-width="0.3"/>
<path d="M584.40,319.14 L586.40,319.14 L585.40,317.34Z" fill="#ff1a1a" stroke="#ff1a1a" stroke-width="0.3"/>
<path d="M589.60,323.09 L591.60,323.09 L590.60,321.29Z" fill="#ff1a1a" stroke="#ff1a1a" stroke-width="0.3"/>
<line x1="579.50" y1="319.96" x2="596.00" y2="319.96" stroke="#bbb" stroke-width="0.5"/>
<line x1="583.00" y1="322.19" x2="591.00" y2="322.19" stroke="#bbb" stroke-width="0.5"/>
<circle cx="612.71" cy="371.67" r="0.85" fill="#22bb22"/>
<circle cx="600.14" cy="371.62" r="0.85" fill="#22bb22"/>
<circle cx="603.64" cy="371.96" r="0.85" fill="#22bb22"/>
<circle cx="600.58" cy="372.05" r="0.85" fill="#22bb22"/>
<circle cx="611.16" cy="372.18" r="0.85" fill="#22bb22"/>
<circle cx="607.92" cy="371.91" r="0.85" fill="#22bb22"/>
<circle cx="602.49" cy="370.86" r="0.85" fill="#22bb22"/>
<circle cx="603.85" cy="371.95" r="0.85" fill="#22bb22"/>
<circle cx="605.87" cy="371.07" r="0.85" fill="#22bb22"/>
<line x1="599.00" y1="371.24" x2="614.00" y2="371.24" stroke="#333" stroke-width="0.6"/>
<circle cx="623.4" cy="312.30" r="1.05" fill="none" stroke="#8a1010" stroke-width="0.75"/>
<text x="627.90" y="314.40" font-size="6.0" text-anchor="start" fill="#222" font-weight="normal">TDP-43</text>
<path d="M622.30,317.81 L624.50,317.81 L623.40,319.79Z" fill="#ff1a1a" stroke="#ff1a1a" stroke-width="0.2"/>
<text x="627.90" y="320.90" font-size="6.0" text-anchor="start" fill="#222" font-weight="normal">Tau (PSP/GGT) type</text>
<path d="M622.30,326.69 L624.50,326.69 L623.40,324.71Z" fill="#ff1a1a" stroke="#ff1a1a" stroke-width="0.2"/>
<text x="627.90" y="327.80" font-size="6.0" text-anchor="start" fill="#222" font-weight="normal"><tspan font-style="italic">MAPT</tspan> mutations</text>
<circle cx="623.4" cy="332.10" r="0.85" fill="#22cc22"/>
<text x="627.90" y="334.20" font-size="6.0" text-anchor="start" fill="#222" font-weight="normal">Non-tau/non-TDP-43</text>
</svg></body></html>
